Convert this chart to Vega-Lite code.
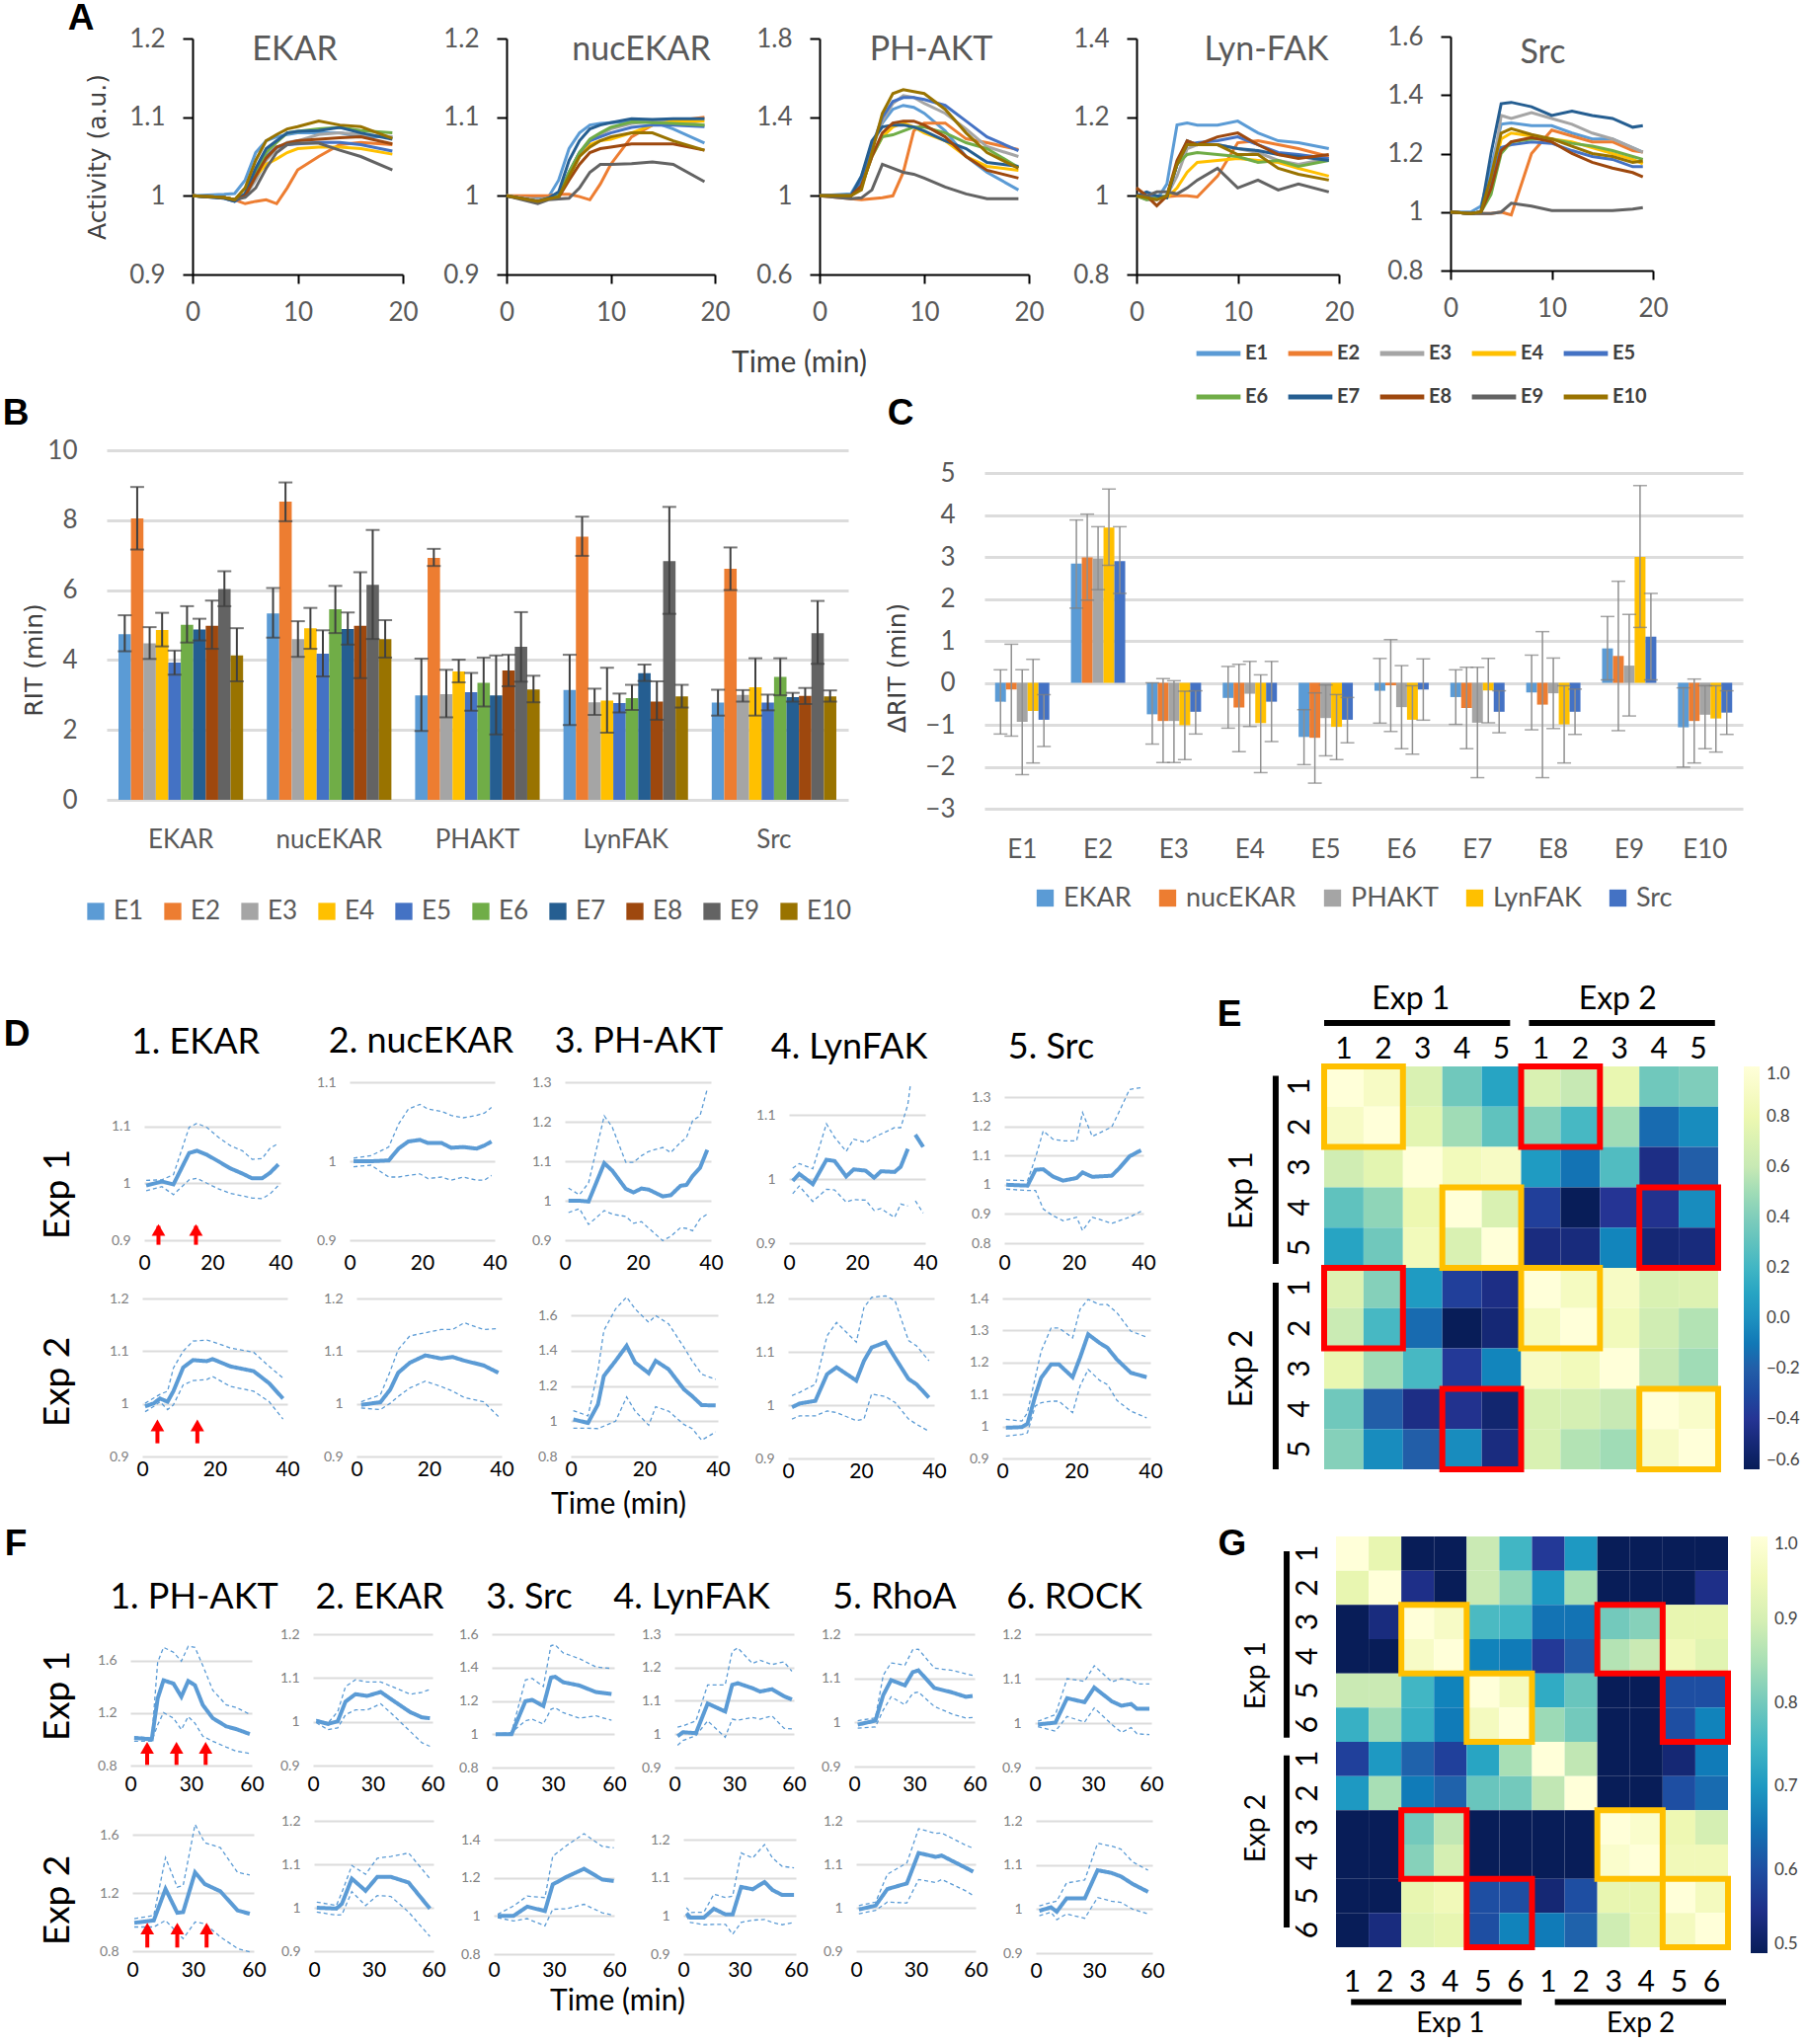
{"$schema":"https://vega.github.io/schema/vega-lite/v6.json","padding":0,"bounds":"flush","spacing":0,"data":{"values":[]},"resolve":{"scale":{"color":"independent","xOffset":"independent"}},
"config":{"view":{"stroke":null},"numberFormat":".3~g","font":"Lato","range":{"category":["#5B9BD5","#ED7D31","#A5A5A5","#FFC000","#4472C4","#70AD47","#255E91","#9E480E","#636363","#997300"]},
"title":{"font":"Lato","fontSize":36,"fontWeight":"normal","color":"#000","anchor":"middle"},
"text":{"font":"Liberation Sans","fontSize":37,"fontWeight":"bold","color":"#000"},
"axis":{"domain":false,"ticks":false,"grid":false,"labelFont":"Lato","titleFont":"Lato","titleFontWeight":"normal","titleColor":"#000","titleFontSize":37,"labelOverlap":false,"labelFlush":false},
"axisY":{"grid":true,"gridColor":"#dcdcdc","gridWidth":2,"labelFontSize":14,"labelColor":"#808080","labelPadding":14},
"axisX":{"labelFontSize":21,"labelColor":"#000"},
"style":{"ax":{"domain":true,"domainColor":"#000","domainWidth":2,"ticks":true,"tickColor":"#000","tickWidth":2,"tickSize":9,"labelFontSize":26,"labelColor":"#595959","labelPadding":16},"ay":{"grid":false,"domain":true,"domainColor":"#000","domainWidth":2,"ticks":true,"tickColor":"#000","tickWidth":2,"tickSize":10,"labelFontSize":26,"labelColor":"#595959","labelPadding":18}}},
"datasets":{
"a1":[{"t":0,"E1":1,"E2":1,"E3":1,"E4":1,"E5":1,"E6":1,"E7":1,"E8":1,"E9":1,"E10":1},
{"t":3,"E1":1.002,"E2":0.998,"E3":0.998,"E4":0.998,"E5":0.997,"E6":0.998,"E7":0.997,"E8":0.998,"E9":0.998,"E10":0.998},
{"t":4,"E1":1.003,"E2":0.995,"E3":0.995,"E4":0.995,"E5":0.993,"E6":0.995,"E7":0.993,"E8":0.995,"E9":0.995,"E10":0.995},
{"t":5,"E1":1.02,"E2":0.99,"E3":1,"E4":1,"E5":1,"E6":1.002,"E7":1.003,"E8":1,"E9":0.998,"E10":1.01},
{"t":6,"E1":1.055,"E2":0.993,"E3":1.02,"E4":1.025,"E5":1.025,"E6":1.03,"E7":1.035,"E8":1.025,"E9":1.01,"E10":1.045},
{"t":7,"E1":1.07,"E2":0.995,"E3":1.045,"E4":1.04,"E5":1.05,"E6":1.055,"E7":1.06,"E8":1.048,"E9":1.035,"E10":1.07},
{"t":8,"E1":1.075,"E2":0.99,"E3":1.06,"E4":1.047,"E5":1.062,"E6":1.068,"E7":1.07,"E8":1.062,"E9":1.055,"E10":1.078},
{"t":9,"E1":1.078,"E2":1.01,"E3":1.068,"E4":1.055,"E5":1.065,"E6":1.08,"E7":1.08,"E8":1.067,"E9":1.065,"E10":1.085},
{"t":10,"E1":1.08,"E2":1.033,"E3":1.07,"E4":1.06,"E5":1.066,"E6":1.082,"E7":1.082,"E8":1.07,"E9":1.067,"E10":1.088},
{"t":12,"E1":1.08,"E2":1.05,"E3":1.078,"E4":1.062,"E5":1.068,"E6":1.085,"E7":1.083,"E8":1.072,"E9":1.067,"E10":1.095},
{"t":14,"E1":1.08,"E2":1.065,"E3":1.08,"E4":1.062,"E5":1.068,"E6":1.087,"E7":1.087,"E8":1.074,"E9":1.058,"E10":1.09},
{"t":16,"E1":1.075,"E2":1.068,"E3":1.078,"E4":1.06,"E5":1.065,"E6":1.083,"E7":1.08,"E8":1.075,"E9":1.05,"E10":1.088},
{"t":19,"E1":1.075,"E2":1.065,"E3":1.075,"E4":1.053,"E5":1.057,"E6":1.08,"E7":1.072,"E8":1.066,"E9":1.033,"E10":1.073}],
"a2":[{"t":0,"E1":1,"E2":1,"E3":1,"E4":1,"E5":1,"E6":1,"E7":1,"E8":1,"E9":1,"E10":1},
{"t":3,"E1":0.997,"E2":1,"E3":0.995,"E4":0.993,"E5":0.993,"E6":0.993,"E7":0.993,"E8":0.993,"E9":0.99,"E10":0.993},
{"t":4,"E1":0.998,"E2":1,"E3":0.997,"E4":0.997,"E5":0.997,"E6":0.997,"E7":0.997,"E8":0.996,"E9":0.995,"E10":0.996},
{"t":5,"E1":1.02,"E2":1.002,"E3":1.002,"E4":1,"E5":1,"E6":1,"E7":1.005,"E8":0.998,"E9":0.996,"E10":0.999},
{"t":6,"E1":1.06,"E2":1.002,"E3":1.03,"E4":1.025,"E5":1.03,"E6":1.03,"E7":1.045,"E8":1.02,"E9":0.997,"E10":1.025},
{"t":7,"E1":1.08,"E2":0.999,"E3":1.055,"E4":1.05,"E5":1.055,"E6":1.055,"E7":1.07,"E8":1.04,"E9":1.01,"E10":1.05},
{"t":8,"E1":1.09,"E2":0.995,"E3":1.07,"E4":1.065,"E5":1.07,"E6":1.072,"E7":1.085,"E8":1.055,"E9":1.03,"E10":1.062},
{"t":9,"E1":1.092,"E2":1.015,"E3":1.078,"E4":1.07,"E5":1.075,"E6":1.08,"E7":1.09,"E8":1.06,"E9":1.04,"E10":1.07},
{"t":10,"E1":1.093,"E2":1.04,"E3":1.085,"E4":1.072,"E5":1.08,"E6":1.087,"E7":1.093,"E8":1.062,"E9":1.04,"E10":1.075},
{"t":12,"E1":1.095,"E2":1.075,"E3":1.092,"E4":1.08,"E5":1.087,"E6":1.094,"E7":1.098,"E8":1.066,"E9":1.041,"E10":1.08},
{"t":14,"E1":1.094,"E2":1.09,"E3":1.095,"E4":1.09,"E5":1.09,"E6":1.093,"E7":1.097,"E8":1.066,"E9":1.043,"E10":1.08},
{"t":16,"E1":1.085,"E2":1.095,"E3":1.095,"E4":1.095,"E5":1.09,"E6":1.092,"E7":1.098,"E8":1.066,"E9":1.04,"E10":1.07},
{"t":19,"E1":1.067,"E2":1.1,"E3":1.09,"E4":1.095,"E5":1.088,"E6":1.09,"E7":1.098,"E8":1.058,"E9":1.018,"E10":1.058}],
"a3":[{"t":0,"E1":1,"E2":1,"E3":1,"E4":1,"E5":1,"E6":1,"E7":1,"E8":1,"E9":1,"E10":1},
{"t":3,"E1":1.01,"E2":0.985,"E3":1,"E4":1,"E5":1,"E6":1,"E7":1,"E8":1,"E9":0.985,"E10":1},
{"t":4,"E1":1.1,"E2":0.98,"E3":1.06,"E4":1.05,"E5":1.07,"E6":1.05,"E7":1.1,"E8":1.05,"E9":0.99,"E10":1.03},
{"t":5,"E1":1.25,"E2":0.985,"E3":1.25,"E4":1.2,"E5":1.25,"E6":1.2,"E7":1.28,"E8":1.2,"E9":1.03,"E10":1.22},
{"t":6,"E1":1.37,"E2":0.99,"E3":1.38,"E4":1.3,"E5":1.4,"E6":1.3,"E7":1.35,"E8":1.32,"E9":1.16,"E10":1.42},
{"t":7,"E1":1.44,"E2":1,"E3":1.47,"E4":1.35,"E5":1.48,"E6":1.31,"E7":1.36,"E8":1.37,"E9":1.14,"E10":1.52},
{"t":8,"E1":1.46,"E2":1.12,"E3":1.51,"E4":1.37,"E5":1.5,"E6":1.33,"E7":1.36,"E8":1.38,"E9":1.12,"E10":1.54},
{"t":9,"E1":1.45,"E2":1.33,"E3":1.5,"E4":1.35,"E5":1.5,"E6":1.35,"E7":1.35,"E8":1.38,"E9":1.11,"E10":1.53},
{"t":10,"E1":1.42,"E2":1.37,"E3":1.47,"E4":1.32,"E5":1.49,"E6":1.35,"E7":1.33,"E8":1.36,"E9":1.09,"E10":1.52},
{"t":12,"E1":1.33,"E2":1.37,"E3":1.42,"E4":1.28,"E5":1.46,"E6":1.32,"E7":1.28,"E8":1.3,"E9":1.045,"E10":1.44},
{"t":14,"E1":1.2,"E2":1.29,"E3":1.34,"E4":1.2,"E5":1.38,"E6":1.27,"E7":1.24,"E8":1.2,"E9":1.01,"E10":1.32},
{"t":16,"E1":1.12,"E2":1.27,"E3":1.25,"E4":1.15,"E5":1.3,"E6":1.24,"E7":1.17,"E8":1.13,"E9":0.985,"E10":1.22},
{"t":19,"E1":1.03,"E2":1.235,"E3":1.2,"E4":1.13,"E5":1.23,"E6":1.145,"E7":1.15,"E8":1.09,"E9":0.985,"E10":1.14}],
"a4":[{"t":0,"E1":1,"E2":1.02,"E3":1,"E4":1,"E5":1,"E6":1,"E7":1,"E8":1.02,"E9":1,"E10":1},
{"t":1,"E1":0.995,"E2":1,"E3":0.99,"E4":0.995,"E5":1,"E6":0.99,"E7":1.01,"E8":1,"E9":1,"E10":0.995},
{"t":2,"E1":0.99,"E2":0.995,"E3":0.99,"E4":0.995,"E5":0.995,"E6":0.995,"E7":1,"E8":0.975,"E9":1.01,"E10":0.99},
{"t":3,"E1":1.03,"E2":0.998,"E3":1,"E4":0.995,"E5":1,"E6":1,"E7":0.995,"E8":1,"E9":1.01,"E10":1},
{"t":4,"E1":1.18,"E2":1,"E3":1.05,"E4":1.02,"E5":1.08,"E6":1.08,"E7":1.08,"E8":1.09,"E9":1.005,"E10":1.08},
{"t":5,"E1":1.185,"E2":1,"E3":1.12,"E4":1.06,"E5":1.13,"E6":1.105,"E7":1.14,"E8":1.14,"E9":1.02,"E10":1.13},
{"t":6,"E1":1.18,"E2":0.997,"E3":1.13,"E4":1.085,"E5":1.135,"E6":1.11,"E7":1.13,"E8":1.13,"E9":1.04,"E10":1.13},
{"t":8,"E1":1.18,"E2":1.05,"E3":1.13,"E4":1.09,"E5":1.14,"E6":1.105,"E7":1.13,"E8":1.15,"E9":1.07,"E10":1.13},
{"t":10,"E1":1.19,"E2":1.135,"E3":1.12,"E4":1.095,"E5":1.15,"E6":1.1,"E7":1.12,"E8":1.16,"E9":1.02,"E10":1.105},
{"t":12,"E1":1.16,"E2":1.14,"E3":1.11,"E4":1.09,"E5":1.13,"E6":1.085,"E7":1.115,"E8":1.13,"E9":1.04,"E10":1.105},
{"t":14,"E1":1.14,"E2":1.13,"E3":1.09,"E4":1.085,"E5":1.11,"E6":1.09,"E7":1.105,"E8":1.105,"E9":1.015,"E10":1.07},
{"t":16,"E1":1.135,"E2":1.12,"E3":1.08,"E4":1.07,"E5":1.105,"E6":1.075,"E7":1.1,"E8":1.095,"E9":1.03,"E10":1.055},
{"t":19,"E1":1.12,"E2":1.1,"E3":1.095,"E4":1.05,"E5":1.095,"E6":1.09,"E7":1.09,"E8":1.105,"E9":1.01,"E10":1.04}],
"a5":[{"t":0,"E1":1,"E2":1,"E3":1,"E4":1,"E5":1,"E6":1,"E7":1,"E8":1,"E9":1,"E10":1},
{"t":2,"E1":1,"E2":0.995,"E3":0.995,"E4":0.995,"E5":0.995,"E6":0.995,"E7":0.995,"E8":0.995,"E9":0.995,"E10":0.995},
{"t":3,"E1":1.02,"E2":0.995,"E3":1,"E4":1,"E5":1,"E6":1,"E7":1,"E8":1,"E9":0.995,"E10":1},
{"t":4,"E1":1.15,"E2":0.995,"E3":1.1,"E4":1.1,"E5":1.1,"E6":1.06,"E7":1.2,"E8":1.08,"E9":0.995,"E10":1.12},
{"t":5,"E1":1.3,"E2":1,"E3":1.33,"E4":1.25,"E5":1.22,"E6":1.2,"E7":1.37,"E8":1.21,"E9":1,"E10":1.27},
{"t":6,"E1":1.305,"E2":0.99,"E3":1.32,"E4":1.27,"E5":1.23,"E6":1.24,"E7":1.375,"E8":1.24,"E9":1.03,"E10":1.285},
{"t":8,"E1":1.295,"E2":1.2,"E3":1.34,"E4":1.26,"E5":1.24,"E6":1.25,"E7":1.36,"E8":1.255,"E9":1.02,"E10":1.265},
{"t":10,"E1":1.295,"E2":1.28,"E3":1.32,"E4":1.25,"E5":1.235,"E6":1.25,"E7":1.33,"E8":1.24,"E9":1.005,"E10":1.25},
{"t":12,"E1":1.27,"E2":1.26,"E3":1.3,"E4":1.24,"E5":1.21,"E6":1.235,"E7":1.345,"E8":1.2,"E9":1.005,"E10":1.225},
{"t":14,"E1":1.25,"E2":1.24,"E3":1.27,"E4":1.22,"E5":1.19,"E6":1.225,"E7":1.33,"E8":1.17,"E9":1.005,"E10":1.2},
{"t":16,"E1":1.25,"E2":1.24,"E3":1.25,"E4":1.2,"E5":1.18,"E6":1.21,"E7":1.32,"E8":1.15,"E9":1.005,"E10":1.19},
{"t":18,"E1":1.22,"E2":1.21,"E3":1.22,"E4":1.18,"E5":1.155,"E6":1.19,"E7":1.29,"E8":1.135,"E9":1.01,"E10":1.17},
{"t":19,"E1":1.205,"E2":1.205,"E3":1.205,"E4":1.165,"E5":1.155,"E6":1.18,"E7":1.295,"E8":1.12,"E9":1.015,"E10":1.175}],
"b":[{"g":"EKAR","s":"E1","v":4.74,"h":5.28,"l":4.25},{"g":"EKAR","s":"E2","v":8.05,"h":8.95,"l":7.16},{"g":"EKAR","s":"E3","v":4.48,"h":4.94,"l":4.03},{"g":"EKAR","s":"E4","v":4.86,"h":5.35,"l":4.39},{"g":"EKAR","s":"E5","v":3.93,"h":4.27,"l":3.58},{"g":"EKAR","s":"E6","v":5.01,"h":5.54,"l":4.5},{"g":"EKAR","s":"E7","v":4.87,"h":5.18,"l":4.56},{"g":"EKAR","s":"E8","v":4.98,"h":5.7,"l":4.32},{"g":"EKAR","s":"E9","v":6.03,"h":6.54,"l":5.54},{"g":"EKAR","s":"E10","v":4.13,"h":4.91,"l":3.39},
{"g":"nucEKAR","s":"E1","v":5.33,"h":6.06,"l":4.64},{"g":"nucEKAR","s":"E2","v":8.53,"h":9.08,"l":7.97},{"g":"nucEKAR","s":"E3","v":4.6,"h":5.11,"l":4.09},{"g":"nucEKAR","s":"E4","v":4.91,"h":5.49,"l":4.32},{"g":"nucEKAR","s":"E5","v":4.18,"h":4.85,"l":3.53},{"g":"nucEKAR","s":"E6","v":5.45,"h":6.12,"l":4.77},{"g":"nucEKAR","s":"E7","v":4.89,"h":5.36,"l":4.44},{"g":"nucEKAR","s":"E8","v":4.98,"h":6.51,"l":3.48},{"g":"nucEKAR","s":"E9","v":6.15,"h":7.72,"l":4.6},{"g":"nucEKAR","s":"E10","v":4.6,"h":5.14,"l":4.07},
{"g":"PHAKT","s":"E1","v":2.99,"h":4.04,"l":1.97},{"g":"PHAKT","s":"E2","v":6.92,"h":7.18,"l":6.69},{"g":"PHAKT","s":"E3","v":3.02,"h":3.72,"l":2.36},{"g":"PHAKT","s":"E4","v":3.67,"h":4.01,"l":3.36},{"g":"PHAKT","s":"E5","v":3.08,"h":3.63,"l":2.55},{"g":"PHAKT","s":"E6","v":3.35,"h":4.07,"l":2.67},{"g":"PHAKT","s":"E7","v":2.99,"h":4.13,"l":1.87},{"g":"PHAKT","s":"E8","v":3.7,"h":4.15,"l":3.25},{"g":"PHAKT","s":"E9","v":4.38,"h":5.37,"l":3.38},{"g":"PHAKT","s":"E10","v":3.16,"h":3.55,"l":2.79},
{"g":"LynFAK","s":"E1","v":3.14,"h":4.15,"l":2.14},{"g":"LynFAK","s":"E2","v":7.53,"h":8.1,"l":6.98},{"g":"LynFAK","s":"E3","v":2.79,"h":3.18,"l":2.43},{"g":"LynFAK","s":"E4","v":2.84,"h":3.78,"l":1.92},{"g":"LynFAK","s":"E5","v":2.77,"h":3.04,"l":2.5},{"g":"LynFAK","s":"E6","v":2.91,"h":3.29,"l":2.57},{"g":"LynFAK","s":"E7","v":3.62,"h":3.87,"l":3.4},{"g":"LynFAK","s":"E8","v":2.81,"h":3.39,"l":2.29},{"g":"LynFAK","s":"E9","v":6.83,"h":8.38,"l":5.32},{"g":"LynFAK","s":"E10","v":2.96,"h":3.29,"l":2.64},
{"g":"Src","s":"E1","v":2.78,"h":3.15,"l":2.41},{"g":"Src","s":"E2","v":6.61,"h":7.22,"l":6},{"g":"Src","s":"E3","v":3,"h":3.14,"l":2.81},{"g":"Src","s":"E4","v":3.22,"h":4.05,"l":2.41},{"g":"Src","s":"E5","v":2.78,"h":3.01,"l":2.56},{"g":"Src","s":"E6","v":3.52,"h":4.05,"l":2.99},{"g":"Src","s":"E7","v":2.94,"h":3.06,"l":2.81},{"g":"Src","s":"E8","v":2.97,"h":3.2,"l":2.74},{"g":"Src","s":"E9","v":4.77,"h":5.69,"l":3.89},{"g":"Src","s":"E10","v":2.96,"h":3.13,"l":2.81}],
"c":[{"g":"E1","s":"EKAR","v":-0.45,"h":0.31,"l":-1.22},{"g":"E1","s":"nucEKAR","v":-0.16,"h":0.92,"l":-1.27},{"g":"E1","s":"PHAKT","v":-0.93,"h":0.31,"l":-2.19},{"g":"E1","s":"LynFAK","v":-0.67,"h":0.56,"l":-1.91},{"g":"E1","s":"Src","v":-0.88,"h":-0.28,"l":-1.52},
{"g":"E2","s":"EKAR","v":2.84,"h":3.88,"l":1.78},{"g":"E2","s":"nucEKAR","v":2.99,"h":4.02,"l":1.97},{"g":"E2","s":"PHAKT","v":2.96,"h":3.72,"l":2.22},{"g":"E2","s":"LynFAK","v":3.7,"h":4.62,"l":2.8},{"g":"E2","s":"Src","v":2.9,"h":3.72,"l":2.13},
{"g":"E3","s":"EKAR","v":-0.75,"h":0,"l":-1.46},{"g":"E3","s":"nucEKAR","v":-0.91,"h":0.1,"l":-1.9},{"g":"E3","s":"PHAKT","v":-0.91,"h":0.05,"l":-1.9},{"g":"E3","s":"LynFAK","v":-1.01,"h":-0.2,"l":-1.83},{"g":"E3","s":"Src","v":-0.69,"h":-0.19,"l":-1.22},
{"g":"E4","s":"EKAR","v":-0.36,"h":0.39,"l":-1.08},{"g":"E4","s":"nucEKAR","v":-0.59,"h":0.44,"l":-1.64},{"g":"E4","s":"PHAKT","v":-0.26,"h":0.51,"l":-1.04},{"g":"E4","s":"LynFAK","v":-0.96,"h":0.19,"l":-2.14},{"g":"E4","s":"Src","v":-0.45,"h":0.51,"l":-1.4},
{"g":"E5","s":"EKAR","v":-1.29,"h":-0.64,"l":-1.95},{"g":"E5","s":"nucEKAR","v":-1.31,"h":-0.24,"l":-2.39},{"g":"E5","s":"PHAKT","v":-0.84,"h":-0.05,"l":-1.74},{"g":"E5","s":"LynFAK","v":-1.05,"h":-0.28,"l":-1.83},{"g":"E5","s":"Src","v":-0.88,"h":-0.35,"l":-1.43},
{"g":"E6","s":"EKAR","v":-0.19,"h":0.58,"l":-0.96},{"g":"E6","s":"nucEKAR","v":-0.06,"h":1.03,"l":-1.16},{"g":"E6","s":"PHAKT","v":-0.58,"h":0.41,"l":-1.57},{"g":"E6","s":"LynFAK","v":-0.88,"h":-0.07,"l":-1.7},{"g":"E6","s":"Src","v":-0.16,"h":0.57,"l":-0.89},
{"g":"E7","s":"EKAR","v":-0.34,"h":0.31,"l":-0.99},{"g":"E7","s":"nucEKAR","v":-0.6,"h":0.37,"l":-1.57},{"g":"E7","s":"PHAKT","v":-0.95,"h":0.37,"l":-2.26},{"g":"E7","s":"LynFAK","v":-0.18,"h":0.58,"l":-0.95},{"g":"E7","s":"Src","v":-0.69,"h":-0.19,"l":-1.19},
{"g":"E8","s":"EKAR","v":-0.23,"h":0.66,"l":-1.12},{"g":"E8","s":"nucEKAR","v":-0.52,"h":1.22,"l":-2.26},{"g":"E8","s":"PHAKT","v":-0.25,"h":0.59,"l":-1.09},{"g":"E8","s":"LynFAK","v":-0.99,"h":-0.07,"l":-1.91},{"g":"E8","s":"Src","v":-0.69,"h":-0.15,"l":-1.23},
{"g":"E9","s":"EKAR","v":0.82,"h":1.58,"l":0.07},{"g":"E9","s":"nucEKAR","v":0.64,"h":2.42,"l":-1.14},{"g":"E9","s":"PHAKT","v":0.41,"h":1.63,"l":-0.79},{"g":"E9","s":"LynFAK","v":3,"h":4.7,"l":1.32},{"g":"E9","s":"Src","v":1.1,"h":2.13,"l":0.07},
{"g":"E10","s":"EKAR","v":-1.06,"h":-0.12,"l":-2.01},{"g":"E10","s":"nucEKAR","v":-0.91,"h":0.09,"l":-1.91},{"g":"E10","s":"PHAKT","v":-0.76,"h":-0.07,"l":-1.57},{"g":"E10","s":"LynFAK","v":-0.85,"h":-0.07,"l":-1.65},{"g":"E10","s":"Src","v":-0.71,"h":-0.19,"l":-1.23}],
"d11":[{"t":0.6,"m":0.996,"u":1.005,"l":0.987},{"t":5.2,"m":1.003,"u":1.006,"l":0.994},{"t":8.6,"m":0.998,"u":1.015,"l":0.98},{"t":13.2,"m":1.053,"u":1.098,"l":1.006},{"t":15.5,"m":1.057,"u":1.105,"l":1.0085},{"t":18.4,"m":1.05,"u":1.098,"l":1},{"t":21.9,"m":1.038,"u":1.08,"l":0.99},{"t":25.3,"m":1.026,"u":1.066,"l":0.982},{"t":28.8,"m":1.017,"u":1.057,"l":0.978},{"t":31.7,"m":1.0085,"u":1.042,"l":0.974},{"t":34.6,"m":1.0085,"u":1.043,"l":0.973},{"t":36.9,"m":1.018,"u":1.061,"l":0.981},{"t":39.4,"m":1.033,"u":1.07,"l":0.996}],
"d12":[{"t":1.1,"m":1,"u":1.004,"l":0.993},{"t":5.9,"m":1,"u":1.007,"l":0.995},{"t":10.8,"m":1.001,"u":1.018,"l":0.98},{"t":13.5,"m":1.016,"u":1.047,"l":0.98},{"t":16.2,"m":1.025,"u":1.066,"l":0.982},{"t":19.4,"m":1.027,"u":1.072,"l":0.984},{"t":21.6,"m":1.023,"u":1.066,"l":0.978},{"t":25.4,"m":1.023,"u":1.063,"l":0.98},{"t":28,"m":1.017,"u":1.058,"l":0.976},{"t":31.3,"m":1.018,"u":1.055,"l":0.98},{"t":35,"m":1.016,"u":1.058,"l":0.976},{"t":37.2,"m":1.02,"u":1.061,"l":0.976},{"t":39.1,"m":1.025,"u":1.068,"l":0.982}],
"d13":[{"t":1,"m":1,"u":1.032,"l":0.97},{"t":4,"m":1,"u":1.015,"l":0.98},{"t":6.5,"m":0.998,"u":1.045,"l":0.94},{"t":10.8,"m":1.095,"u":1.215,"l":0.975},{"t":13,"m":1.076,"u":1.186,"l":0.966},{"t":16.7,"m":1.03,"u":1.097,"l":0.96},{"t":18.8,"m":1.021,"u":1.097,"l":0.943},{"t":21,"m":1.031,"u":1.114,"l":0.947},{"t":23,"m":1.028,"u":1.125,"l":0.93},{"t":26.8,"m":1.011,"u":1.135,"l":0.899},{"t":29,"m":1.014,"u":1.122,"l":0.91},{"t":31.7,"m":1.038,"u":1.148,"l":0.932},{"t":33.3,"m":1.04,"u":1.16,"l":0.93},{"t":35,"m":1.063,"u":1.203,"l":0.924},{"t":37,"m":1.083,"u":1.215,"l":0.954},{"t":39,"m":1.129,"u":1.283,"l":0.966}],
"d14":[{"t":1.1,"m":0.997,"u":1.017,"l":0.977},{"t":3,"m":1.008,"u":1.024,"l":0.989},{"t":7,"m":0.992,"u":1.016,"l":0.965},{"t":11,"m":1.03,"u":1.086,"l":0.984},{"t":13.4,"m":1.028,"u":1.065,"l":0.983},{"t":16.8,"m":1.004,"u":1.043,"l":0.964},{"t":19,"m":1.015,"u":1.062,"l":0.968},{"t":22.5,"m":1.013,"u":1.057,"l":0.967},{"t":25,"m":1.002,"u":1.065,"l":0.951},{"t":27,"m":1.012,"u":1.07,"l":0.954},{"t":31,"m":1.011,"u":1.08,"l":0.94},{"t":32.8,"m":1.019,"u":1.08,"l":0.961},{"t":34.9,"m":1.047,"u":1.116,"l":0.958},{"t":35.7,"u":1.149},{"t":37.1,"m":1.069,"l":0.966},{"t":39.4,"m":1.05,"l":0.947}],
"d15":[{"t":0.6,"m":1,"u":1.016,"l":0.985},{"t":6.7,"m":0.997,"u":1.014,"l":0.98},{"t":9,"m":1.051,"u":1.093,"l":0.98},{"t":11.2,"m":1.053,"u":1.184,"l":0.917},{"t":14,"m":1.028,"u":1.156,"l":0.894},{"t":16.9,"m":1.014,"u":1.15,"l":0.877},{"t":20.8,"m":1.023,"u":1.15,"l":0.889},{"t":22.5,"m":1.042,"u":1.247,"l":0.843},{"t":25.3,"m":1.027,"u":1.165,"l":0.889},{"t":30.9,"m":1.031,"u":1.198,"l":0.868},{"t":33.1,"m":1.057,"u":1.252,"l":0.877},{"t":36,"m":1.097,"u":1.326,"l":0.889},{"t":39.3,"m":1.118,"u":1.332,"l":0.909}],
"d21":[{"t":0.8,"m":0.995,"u":1.001,"l":0.985},{"t":3.2,"m":1.001,"u":1.011,"l":0.995},{"t":4.9,"m":1.01,"u":1.018,"l":1.004},{"t":7,"m":1.004,"u":1.024,"l":0.989},{"t":8.6,"m":1.024,"u":1.068,"l":0.998},{"t":11.3,"m":1.069,"u":1.1,"l":1.036},{"t":14,"m":1.083,"u":1.119,"l":1.044},{"t":17.8,"m":1.081,"u":1.121,"l":1.046},{"t":19.4,"m":1.085,"u":1.118,"l":1.052},{"t":24.3,"m":1.071,"u":1.106,"l":1.033},{"t":30.7,"m":1.062,"u":1.098,"l":1.024},{"t":35,"m":1.039,"u":1.071,"l":1.004},{"t":38.8,"m":1.01,"u":1.049,"l":0.971}],
"d22":[{"t":1.3,"m":0.998,"u":1.004,"l":0.992},{"t":6.6,"m":1.003,"u":1.017,"l":0.989},{"t":9.3,"m":1.027,"u":1.062,"l":1.001},{"t":11.5,"m":1.059,"u":1.103,"l":1.014},{"t":14.7,"m":1.078,"u":1.129,"l":1.03},{"t":19,"m":1.092,"u":1.135,"l":1.043},{"t":23.3,"m":1.086,"u":1.141,"l":1.033},{"t":26.5,"m":1.089,"u":1.141,"l":1.024},{"t":29.7,"m":1.082,"u":1.154,"l":1.012},{"t":35,"m":1.073,"u":1.141,"l":1.004},{"t":39.1,"m":1.059,"u":1.143,"l":0.976}],
"d23":[{"t":0.7,"m":1.01,"u":1.06,"l":0.96},{"t":4.7,"m":0.99,"u":1.03,"l":0.96},{"t":7.4,"m":1.095,"u":1.285,"l":0.958},{"t":9,"m":1.256,"u":1.513,"l":0.972},{"t":12.2,"m":1.342,"u":1.636,"l":1},{"t":15.2,"m":1.427,"u":1.703,"l":1.137},{"t":17.5,"m":1.332,"u":1.636,"l":1.057},{"t":21.2,"m":1.272,"u":1.56,"l":0.977},{"t":23.1,"m":1.342,"u":1.598,"l":1.082},{"t":26.6,"m":1.294,"u":1.551,"l":1.057},{"t":30.8,"m":1.18,"u":1.418,"l":0.981},{"t":33,"m":1.142,"u":1.342,"l":0.958},{"t":35.6,"m":1.091,"u":1.266,"l":0.892},{"t":39.4,"m":1.089,"u":1.237,"l":0.939}],
"d24":[{"t":1.1,"m":0.996,"u":1.018,"l":0.974},{"t":3.2,"m":1.003,"u":1.024,"l":0.98},{"t":7.5,"m":1.008,"u":1.039,"l":0.98},{"t":10.7,"m":1.058,"u":1.13,"l":0.989},{"t":13.3,"m":1.071,"u":1.155,"l":0.986},{"t":18.7,"m":1.046,"u":1.118,"l":0.971},{"t":20.8,"m":1.083,"u":1.183,"l":0.974},{"t":22.9,"m":1.108,"u":1.202,"l":1.021},{"t":26.7,"m":1.118,"u":1.205,"l":1.016},{"t":29.3,"m":1.089,"u":1.196,"l":1.005},{"t":33,"m":1.049,"u":1.121,"l":0.974},{"t":35.2,"m":1.039,"u":1.111,"l":0.964},{"t":38.6,"m":1.014,"u":1.083,"l":0.951}],
"d25":[{"t":1,"m":0.996,"u":1.022,"l":0.97},{"t":5.3,"m":0.998,"u":1.017,"l":0.975},{"t":6.8,"m":1.008,"u":1.043,"l":0.98},{"t":8.9,"m":1.095,"u":1.152,"l":1.064},{"t":10.5,"m":1.152,"u":1.235,"l":1.074},{"t":13.2,"m":1.194,"u":1.308,"l":1.079},{"t":15.3,"m":1.194,"u":1.308,"l":1.079},{"t":19,"m":1.154,"u":1.277,"l":1.043},{"t":21,"m":1.215,"u":1.366,"l":1.126},{"t":23.2,"m":1.288,"u":1.397,"l":1.178},{"t":26.3,"m":1.261,"u":1.381,"l":1.144},{"t":28.4,"m":1.246,"u":1.381,"l":1.131},{"t":31,"m":1.209,"u":1.355,"l":1.081},{"t":34.7,"m":1.168,"u":1.298,"l":1.048},{"t":39,"m":1.154,"u":1.279,"l":1.027}],
"f11":[{"t":1.9,"m":1.01,"u":1.02,"l":0.985},{"t":10.6,"m":1,"u":1.01,"l":0.985},{"t":13.5,"m":1.311,"u":1.587,"l":1.11},{"t":16.4,"m":1.449,"u":1.7,"l":1.203},{"t":21.3,"m":1.424,"u":1.663,"l":1.161},{"t":25.2,"m":1.324,"u":1.595,"l":1.073},{"t":28.6,"m":1.444,"u":1.708,"l":1.173},{"t":31.9,"m":1.412,"u":1.7,"l":1.123},{"t":35.8,"m":1.261,"u":1.562,"l":1.023},{"t":40.7,"m":1.161,"u":1.374,"l":0.985},{"t":47.4,"m":1.098,"u":1.261,"l":0.94},{"t":52.2,"m":1.078,"u":1.243,"l":0.91},{"t":59,"m":1.04,"u":1.19,"l":0.892}],
"f12":[{"t":1.6,"m":1.002,"u":1.005,"l":0.998},{"t":7.5,"m":0.995,"u":0.997,"l":0.982},{"t":12.4,"m":1.001,"u":1.023,"l":0.986},{"t":16.3,"m":1.046,"u":1.08,"l":1.016},{"t":21.3,"m":1.063,"u":1.096,"l":1.027},{"t":27.2,"m":1.059,"u":1.091,"l":1.027},{"t":34,"m":1.068,"u":1.091,"l":1.041},{"t":41,"m":1.046,"u":1.078,"l":1.012},{"t":48.8,"m":1.022,"u":1.063,"l":0.978},{"t":54.7,"m":1.01,"u":1.067,"l":0.952},{"t":58.7,"m":1.008,"u":1.074,"l":0.944}],
"f13":[{"t":1.9,"m":1,"u":1,"l":0.992},{"t":9.7,"m":1,"u":1.01,"l":1.01},{"t":16.5,"m":1.198,"u":1.325,"l":1.08},{"t":19.8,"m":1.206,"u":1.335,"l":1.09},{"t":25.3,"m":1.169,"u":1.286,"l":1.061},{"t":29,"m":1.339,"u":1.531,"l":1.149},{"t":31,"m":1.345,"u":1.537,"l":1.159},{"t":35,"m":1.312,"u":1.488,"l":1.129},{"t":43,"m":1.292,"u":1.453,"l":1.096},{"t":51,"m":1.253,"u":1.404,"l":1.11},{"t":58.7,"m":1.241,"u":1.394,"l":1.084}],
"f14":[{"t":1.6,"m":0.994,"u":1.021,"l":0.967},{"t":4.3,"m":1.006,"u":1.025,"l":0.981},{"t":10.8,"m":1.003,"u":1.04,"l":0.996},{"t":16.7,"m":1.092,"u":1.148,"l":1.04},{"t":25.5,"m":1.068,"u":1.148,"l":0.991},{"t":29,"m":1.148,"u":1.248,"l":1.045},{"t":31.8,"m":1.153,"u":1.259,"l":1.042},{"t":39.2,"m":1.138,"u":1.212,"l":1.05},{"t":43,"m":1.128,"u":1.222,"l":1.045},{"t":49,"m":1.135,"u":1.209,"l":1.055},{"t":55,"m":1.114,"u":1.217,"l":1.018},{"t":59,"m":1.104,"u":1.189,"l":1.016}],
"f15":[{"t":1.8,"m":0.995,"u":1.004,"l":0.987},{"t":10.6,"m":1.004,"u":1.01,"l":0.99},{"t":14.5,"m":1.062,"u":1.107,"l":1.028},{"t":18.4,"m":1.096,"u":1.135,"l":1.058},{"t":25.3,"m":1.084,"u":1.13,"l":1.04},{"t":29.2,"m":1.114,"u":1.165,"l":1.066},{"t":32,"m":1.118,"u":1.166,"l":1.069},{"t":40,"m":1.078,"u":1.123,"l":1.036},{"t":48.8,"m":1.068,"u":1.118,"l":1.019},{"t":55.7,"m":1.058,"u":1.11,"l":1.01},{"t":59,"m":1.06,"u":1.107,"l":1.011}],
"f16":[{"t":1.6,"m":0.997,"u":1.004,"l":0.992},{"t":10.6,"m":1.001,"u":1.019,"l":0.982},{"t":16.6,"m":1.056,"u":1.1,"l":1.015},{"t":25.6,"m":1.047,"u":1.094,"l":1.002},{"t":30.6,"m":1.08,"u":1.129,"l":1.034},{"t":39.6,"m":1.049,"u":1.093,"l":0.997},{"t":44.6,"m":1.039,"u":1.1,"l":0.979},{"t":49.6,"m":1.043,"u":1.096,"l":0.99},{"t":52.6,"m":1.032,"u":1.088,"l":0.976},{"t":59,"m":1.032,"u":1.088,"l":0.974}],
"f21":[{"t":1,"m":0.995,"u":1.023,"l":0.966},{"t":10.6,"m":1.011,"u":1.045,"l":0.966},{"t":16.4,"m":1.227,"u":1.443,"l":1.011},{"t":22.2,"m":1.064,"u":1.239,"l":0.927},{"t":25.1,"m":1.068,"u":1.25,"l":0.886},{"t":31,"m":1.341,"u":1.67,"l":1},{"t":35.8,"m":1.261,"u":1.545,"l":0.989},{"t":43.5,"m":1.211,"u":1.511,"l":0.898},{"t":52,"m":1.08,"u":1.341,"l":0.818},{"t":58,"m":1.057,"u":1.323,"l":0.795}],
"f22":[{"t":1.4,"m":1,"u":1.013,"l":0.99},{"t":11.2,"m":0.998,"u":1.005,"l":0.983},{"t":14,"m":1.009,"u":1.035,"l":0.984},{"t":19,"m":1.067,"u":1.097,"l":1.037},{"t":25.9,"m":1.039,"u":1.077,"l":1.005},{"t":31.8,"m":1.071,"u":1.114,"l":1.028},{"t":38.6,"m":1.071,"u":1.118,"l":1.026},{"t":47.5,"m":1.058,"u":1.126,"l":0.99},{"t":58.2,"m":0.998,"u":1.067,"l":0.934}],
"f23":[{"t":2,"m":1,"u":1.009,"l":0.991},{"t":9.8,"m":1,"u":1.052,"l":0.974},{"t":16.7,"m":1.049,"u":1.104,"l":0.986},{"t":25.5,"m":1.026,"u":1.096,"l":0.948},{"t":29.4,"m":1.165,"u":1.313,"l":1.035},{"t":36.3,"m":1.205,"u":1.369,"l":1.038},{"t":45,"m":1.247,"u":1.431,"l":1.061},{"t":54,"m":1.191,"u":1.365,"l":1.017},{"t":59.8,"m":1.183,"u":1.357,"l":1.003}],
"f24":[{"t":1.7,"m":1.007,"u":1.022,"l":1},{"t":3.8,"m":0.996,"u":1.009,"l":0.983},{"t":11,"m":0.996,"u":1.01,"l":0.977},{"t":16.3,"m":1.019,"u":1.057,"l":0.978},{"t":22.5,"m":1.004,"u":1.048,"l":0.978},{"t":26.3,"m":1.004,"u":1.052,"l":0.952},{"t":30.8,"m":1.076,"u":1.165,"l":0.983},{"t":37,"m":1.07,"u":1.152,"l":0.989},{"t":43.3,"m":1.089,"u":1.187,"l":0.991},{"t":47.5,"m":1.068,"u":1.152,"l":0.983},{"t":52.7,"m":1.055,"u":1.13,"l":0.977},{"t":59,"m":1.055,"u":1.126,"l":0.983}],
"f25":[{"t":1.4,"m":0.996,"u":1.005,"l":0.986},{"t":9.8,"m":1.005,"u":1.013,"l":0.994},{"t":15.7,"m":1.043,"u":1.077,"l":1.013},{"t":25.5,"m":1.056,"u":1.103,"l":1.011},{"t":31.4,"m":1.126,"u":1.182,"l":1.065},{"t":40,"m":1.117,"u":1.171,"l":1.058},{"t":43,"m":1.12,"u":1.172,"l":1.065},{"t":55,"m":1.092,"u":1.144,"l":1.039},{"t":58.8,"m":1.083,"u":1.137,"l":1.028}],
"f26":[{"t":1.8,"m":0.996,"u":1.007,"l":0.985},{"t":7.8,"m":1.004,"u":1.015,"l":0.993},{"t":10.8,"m":0.994,"u":1.018,"l":0.976},{"t":15.8,"m":1.024,"u":1.059,"l":0.989},{"t":25.2,"m":1.024,"u":1.066,"l":0.979},{"t":31.8,"m":1.088,"u":1.149,"l":1.026},{"t":38.8,"m":1.082,"u":1.143,"l":1.018},{"t":43.8,"m":1.074,"u":1.136,"l":1.015},{"t":49.8,"m":1.057,"u":1.107,"l":1},{"t":57.8,"m":1.039,"u":1.088,"l":0.989}],
"ad":[{"a":4.2},{"a":15.2}],"af1":[{"a":8.3},{"a":22.8},{"a":37.2}],"af2":[{"a":7.4},{"a":22.2},{"a":36.7}],
"eh":[{"c":0,"r":0,"v":1},{"c":1,"r":0,"v":0.9},{"c":2,"r":0,"v":0.7},{"c":3,"r":0,"v":0.35},{"c":4,"r":0,"v":0.1},{"c":5,"r":0,"v":0.7},{"c":6,"r":0,"v":0.6},{"c":7,"r":0,"v":0.78},{"c":8,"r":0,"v":0.35},{"c":9,"r":0,"v":0.4},
{"c":0,"r":1,"v":0.9},{"c":1,"r":1,"v":1},{"c":2,"r":1,"v":0.75},{"c":3,"r":1,"v":0.5},{"c":4,"r":1,"v":0.3},{"c":5,"r":1,"v":0.42},{"c":6,"r":1,"v":0.22},{"c":7,"r":1,"v":0.5},{"c":8,"r":1,"v":-0.15},{"c":9,"r":1,"v":-0.02},
{"c":0,"r":2,"v":0.65},{"c":1,"r":2,"v":0.75},{"c":2,"r":2,"v":1},{"c":3,"r":2,"v":0.85},{"c":4,"r":2,"v":0.9},{"c":5,"r":2,"v":0.05},{"c":6,"r":2,"v":-0.12},{"c":7,"r":2,"v":0.25},{"c":8,"r":2,"v":-0.45},{"c":9,"r":2,"v":-0.2},
{"c":0,"r":3,"v":0.3},{"c":1,"r":3,"v":0.45},{"c":2,"r":3,"v":0.8},{"c":3,"r":3,"v":1},{"c":4,"r":3,"v":0.7},{"c":5,"r":3,"v":-0.35},{"c":6,"r":3,"v":-0.6},{"c":7,"r":3,"v":-0.4},{"c":8,"r":3,"v":-0.42},{"c":9,"r":3,"v":-0.02},
{"c":0,"r":4,"v":0.1},{"c":1,"r":4,"v":0.35},{"c":2,"r":4,"v":0.85},{"c":3,"r":4,"v":0.7},{"c":4,"r":4,"v":1},{"c":5,"r":4,"v":-0.47},{"c":6,"r":4,"v":-0.48},{"c":7,"r":4,"v":-0.05},{"c":8,"r":4,"v":-0.5},{"c":9,"r":4,"v":-0.48},
{"c":0,"r":5,"v":0.72},{"c":1,"r":5,"v":0.42},{"c":2,"r":5,"v":0.05},{"c":3,"r":5,"v":-0.35},{"c":4,"r":5,"v":-0.45},{"c":5,"r":5,"v":1},{"c":6,"r":5,"v":0.88},{"c":7,"r":5,"v":0.9},{"c":8,"r":5,"v":0.7},{"c":9,"r":5,"v":0.72},
{"c":0,"r":6,"v":0.62},{"c":1,"r":6,"v":0.22},{"c":2,"r":6,"v":-0.15},{"c":3,"r":6,"v":-0.6},{"c":4,"r":6,"v":-0.5},{"c":5,"r":6,"v":0.88},{"c":6,"r":6,"v":1},{"c":7,"r":6,"v":0.85},{"c":8,"r":6,"v":0.65},{"c":9,"r":6,"v":0.55},
{"c":0,"r":7,"v":0.78},{"c":1,"r":7,"v":0.5},{"c":2,"r":7,"v":0.22},{"c":3,"r":7,"v":-0.38},{"c":4,"r":7,"v":-0.05},{"c":5,"r":7,"v":0.9},{"c":6,"r":7,"v":0.85},{"c":7,"r":7,"v":1},{"c":8,"r":7,"v":0.6},{"c":9,"r":7,"v":0.5},
{"c":0,"r":8,"v":0.35},{"c":1,"r":8,"v":-0.2},{"c":2,"r":8,"v":-0.45},{"c":3,"r":8,"v":-0.42},{"c":4,"r":8,"v":-0.52},{"c":5,"r":8,"v":0.7},{"c":6,"r":8,"v":0.68},{"c":7,"r":8,"v":0.6},{"c":8,"r":8,"v":1},{"c":9,"r":8,"v":0.92},
{"c":0,"r":9,"v":0.42},{"c":1,"r":9,"v":-0.02},{"c":2,"r":9,"v":-0.2},{"c":3,"r":9,"v":-0.02},{"c":4,"r":9,"v":-0.47},{"c":5,"r":9,"v":0.7},{"c":6,"r":9,"v":0.55},{"c":7,"r":9,"v":0.5},{"c":8,"r":9,"v":0.9},{"c":9,"r":9,"v":1}],
"eb":[{"k":"o","a":0,"b":2,"p":0,"q":2},{"k":"o","a":3,"b":5,"p":3,"q":5},{"k":"o","a":5,"b":7,"p":5,"q":7},{"k":"o","a":8,"b":10,"p":8,"q":10},{"k":"r","a":5,"b":7,"p":0,"q":2},{"k":"r","a":8,"b":10,"p":3,"q":5},{"k":"r","a":0,"b":2,"p":5,"q":7},{"k":"r","a":3,"b":5,"p":8,"q":10},{"k":"b","a":0,"b":4.72,"p":-1.08,"q":-1.08},{"k":"b","a":5.2,"b":9.92,"p":-1.08,"q":-1.08},{"k":"b","a":-1.23,"b":-1.23,"p":0.23,"q":4.9},{"k":"b","a":-1.23,"b":-1.23,"p":5.37,"q":10}],
"et":[{"t":"Exp 1","x":2.2,"y":-1.67,"a":0},{"t":"Exp 2","x":7.45,"y":-1.67,"a":0},{"t":"Exp 1","x":-2.08,"y":3.08,"a":270},{"t":"Exp 2","x":-2.08,"y":7.5,"a":270}],
"gh":[{"c":0,"r":0,"v":1},{"c":1,"r":0,"v":0.93},{"c":2,"r":0,"v":0.5},{"c":3,"r":0,"v":0.5},{"c":4,"r":0,"v":0.88},{"c":5,"r":0,"v":0.75},{"c":6,"r":0,"v":0.57},{"c":7,"r":0,"v":0.7},{"c":8,"r":0,"v":0.5},{"c":9,"r":0,"v":0.5},{"c":10,"r":0,"v":0.5},{"c":11,"r":0,"v":0.5},
{"c":0,"r":1,"v":0.93},{"c":1,"r":1,"v":1},{"c":2,"r":1,"v":0.55},{"c":3,"r":1,"v":0.5},{"c":4,"r":1,"v":0.88},{"c":5,"r":1,"v":0.83},{"c":6,"r":1,"v":0.7},{"c":7,"r":1,"v":0.85},{"c":8,"r":1,"v":0.5},{"c":9,"r":1,"v":0.5},{"c":10,"r":1,"v":0.5},{"c":11,"r":1,"v":0.55},
{"c":0,"r":2,"v":0.5},{"c":1,"r":2,"v":0.54},{"c":2,"r":2,"v":1},{"c":3,"r":2,"v":0.97},{"c":4,"r":2,"v":0.76},{"c":5,"r":2,"v":0.75},{"c":6,"r":2,"v":0.65},{"c":7,"r":2,"v":0.65},{"c":8,"r":2,"v":0.8},{"c":9,"r":2,"v":0.82},{"c":10,"r":2,"v":0.93},{"c":11,"r":2,"v":0.93},
{"c":0,"r":3,"v":0.5},{"c":1,"r":3,"v":0.5},{"c":2,"r":3,"v":0.97},{"c":3,"r":3,"v":1},{"c":4,"r":3,"v":0.67},{"c":5,"r":3,"v":0.66},{"c":6,"r":3,"v":0.57},{"c":7,"r":3,"v":0.62},{"c":8,"r":3,"v":0.86},{"c":9,"r":3,"v":0.88},{"c":10,"r":3,"v":0.95},{"c":11,"r":3,"v":0.92},
{"c":0,"r":4,"v":0.88},{"c":1,"r":4,"v":0.88},{"c":2,"r":4,"v":0.75},{"c":3,"r":4,"v":0.67},{"c":4,"r":4,"v":1},{"c":5,"r":4,"v":0.96},{"c":6,"r":4,"v":0.73},{"c":7,"r":4,"v":0.79},{"c":8,"r":4,"v":0.5},{"c":9,"r":4,"v":0.5},{"c":10,"r":4,"v":0.6},{"c":11,"r":4,"v":0.6},
{"c":0,"r":5,"v":0.74},{"c":1,"r":5,"v":0.84},{"c":2,"r":5,"v":0.74},{"c":3,"r":5,"v":0.66},{"c":4,"r":5,"v":0.96},{"c":5,"r":5,"v":1},{"c":6,"r":5,"v":0.84},{"c":7,"r":5,"v":0.8},{"c":8,"r":5,"v":0.5},{"c":9,"r":5,"v":0.5},{"c":10,"r":5,"v":0.6},{"c":11,"r":5,"v":0.67},
{"c":0,"r":6,"v":0.58},{"c":1,"r":6,"v":0.7},{"c":2,"r":6,"v":0.63},{"c":3,"r":6,"v":0.58},{"c":4,"r":6,"v":0.72},{"c":5,"r":6,"v":0.85},{"c":6,"r":6,"v":1},{"c":7,"r":6,"v":0.87},{"c":8,"r":6,"v":0.5},{"c":9,"r":6,"v":0.5},{"c":10,"r":6,"v":0.53},{"c":11,"r":6,"v":0.66},
{"c":0,"r":7,"v":0.7},{"c":1,"r":7,"v":0.85},{"c":2,"r":7,"v":0.66},{"c":3,"r":7,"v":0.63},{"c":4,"r":7,"v":0.79},{"c":5,"r":7,"v":0.8},{"c":6,"r":7,"v":0.87},{"c":7,"r":7,"v":1},{"c":8,"r":7,"v":0.5},{"c":9,"r":7,"v":0.5},{"c":10,"r":7,"v":0.6},{"c":11,"r":7,"v":0.64},
{"c":0,"r":8,"v":0.5},{"c":1,"r":8,"v":0.5},{"c":2,"r":8,"v":0.8},{"c":3,"r":8,"v":0.87},{"c":4,"r":8,"v":0.5},{"c":5,"r":8,"v":0.5},{"c":6,"r":8,"v":0.5},{"c":7,"r":8,"v":0.5},{"c":8,"r":8,"v":1},{"c":9,"r":8,"v":0.98},{"c":10,"r":8,"v":0.94},{"c":11,"r":8,"v":0.9},
{"c":0,"r":9,"v":0.5},{"c":1,"r":9,"v":0.5},{"c":2,"r":9,"v":0.82},{"c":3,"r":9,"v":0.9},{"c":4,"r":9,"v":0.5},{"c":5,"r":9,"v":0.5},{"c":6,"r":9,"v":0.5},{"c":7,"r":9,"v":0.5},{"c":8,"r":9,"v":0.98},{"c":9,"r":9,"v":1},{"c":10,"r":9,"v":0.95},{"c":11,"r":9,"v":0.95},
{"c":0,"r":10,"v":0.5},{"c":1,"r":10,"v":0.5},{"c":2,"r":10,"v":0.93},{"c":3,"r":10,"v":0.95},{"c":4,"r":10,"v":0.6},{"c":5,"r":10,"v":0.6},{"c":6,"r":10,"v":0.53},{"c":7,"r":10,"v":0.6},{"c":8,"r":10,"v":0.93},{"c":9,"r":10,"v":0.93},{"c":10,"r":10,"v":1},{"c":11,"r":10,"v":0.96},
{"c":0,"r":11,"v":0.5},{"c":1,"r":11,"v":0.54},{"c":2,"r":11,"v":0.92},{"c":3,"r":11,"v":0.93},{"c":4,"r":11,"v":0.6},{"c":5,"r":11,"v":0.67},{"c":6,"r":11,"v":0.66},{"c":7,"r":11,"v":0.63},{"c":8,"r":11,"v":0.89},{"c":9,"r":11,"v":0.93},{"c":10,"r":11,"v":0.96},{"c":11,"r":11,"v":1}],
"gb":[{"k":"o","a":2,"b":4,"p":2,"q":4},{"k":"o","a":4,"b":6,"p":4,"q":6},{"k":"o","a":8,"b":10,"p":8,"q":10},{"k":"o","a":10,"b":12,"p":10,"q":12},{"k":"r","a":8,"b":10,"p":2,"q":4},{"k":"r","a":10,"b":12,"p":4,"q":6},{"k":"r","a":2,"b":4,"p":8,"q":10},{"k":"r","a":4,"b":6,"p":10,"q":12},{"k":"b","a":0.46,"b":5.68,"p":13.6,"q":13.6},{"k":"b","a":6.7,"b":11.94,"p":13.6,"q":13.6},{"k":"b","a":-1.51,"b":-1.51,"p":0.43,"q":5.88},{"k":"b","a":-1.51,"b":-1.51,"p":6.4,"q":11.42}],
"gt":[{"t":"Exp 1","x":3.5,"y":14.25,"a":0},{"t":"Exp 2","x":9.33,"y":14.25,"a":0},{"t":"Exp 1","x":-2.42,"y":4.06,"a":270},{"t":"Exp 2","x":-2.42,"y":8.53,"a":270}]
},
"vconcat":[
{"width":1830,"height":18,"mark":"rule","encoding":{}},
{"bounds":"flush","spacing":0,"hconcat":[{"width":81,"height":1,"mark":"rule","encoding":{}},{"width":2,"height":2,"data":{"values":[{"l":"A"}]},"mark":"text","encoding":{"text":{"field":"l"}}}]},
{"width":1,"height":19,"mark":"rule","encoding":{}},
{"bounds":"flush","spacing":0,"hconcat":[{"width":1469,"height":1,"mark":"rule","encoding":{}},
{"width":205,"height":237,"title":{"text":"Src","dx":-9,"offset":-47,"color":"#595959","fontSize":34},"data":{"name":"a5"},"transform":[{"fold":["E1","E2","E3","E4","E5","E6","E7","E8","E9","E10"]}],"mark":{"type":"line","strokeWidth":3},"encoding":{"x":{"field":"t","type":"quantitative","scale":{"domain":[0,20]},"title":null,"axis":{"style":"ax","values":[0,10,20]}},"y":{"field":"value","type":"quantitative","scale":{"domain":[0.8,1.6]},"title":null,"axis":{"style":"ay","values":[0.8,1,1.2,1.4,1.6]}},"color":{"field":"key","type":"nominal","sort":null,"legend":{"orient":"none","direction":"horizontal","legendX":1209,"legendY":296,"columns":5,"title":null,"symbolType":"stroke","symbolSize":2000,"symbolStrokeWidth":5,"labelFontSize":20,"labelFont":"Lato","labelFontWeight":"bold","labelColor":"#404040","columnPadding":9,"rowPadding":9,"labelOffset":2}}}}]},
{"width":1,"height":2,"mark":"rule","encoding":{}},
{"bounds":"flush","spacing":0,"hconcat":[{"width":195,"height":1,"mark":"rule","encoding":{}},
{"width":213,"height":239,"title":{"text":"EKAR","dx":-3,"offset":-42,"color":"#595959","fontSize":34},"data":{"name":"a1"},"transform":[{"fold":["E1","E2","E3","E4","E5","E6","E7","E8","E9","E10"]}],"mark":{"type":"line","strokeWidth":3},"encoding":{"x":{"field":"t","type":"quantitative","scale":{"domain":[0,20]},"title":null,"axis":{"style":"ax","values":[0,10,20]}},"y":{"field":"value","type":"quantitative","scale":{"domain":[0.9,1.2]},"axis":{"style":"ay","values":[0.9,1,1.1,1.2],"title":"Activity (a.u.)","titleFont":"DejaVu Sans","titleFontSize":25,"titleColor":"#404040","titleX":-97,"titleBaseline":"middle"}},"color":{"field":"key","type":"nominal","sort":null,"legend":null}}},
{"width":105,"height":1,"mark":"rule","encoding":{}},
{"width":211,"height":239,"title":{"text":"nucEKAR","dx":31,"offset":-42,"color":"#595959","fontSize":34},"data":{"name":"a2"},"transform":[{"fold":["E1","E2","E3","E4","E5","E6","E7","E8","E9","E10"]}],"mark":{"type":"line","strokeWidth":3},"encoding":{"x":{"field":"t","type":"quantitative","scale":{"domain":[0,20]},"title":null,"axis":{"style":"ax","values":[0,10,20]}},"y":{"field":"value","type":"quantitative","scale":{"domain":[0.9,1.2]},"title":null,"axis":{"style":"ay","values":[0.9,1,1.1,1.2]}},"color":{"field":"key","type":"nominal","sort":null,"legend":null}}},
{"width":106,"height":1,"mark":"rule","encoding":{}},
{"width":212,"height":239,"title":{"text":"PH-AKT","dx":7,"offset":-42,"color":"#595959","fontSize":34},"data":{"name":"a3"},"transform":[{"fold":["E1","E2","E3","E4","E5","E6","E7","E8","E9","E10"]}],"mark":{"type":"line","strokeWidth":3},"encoding":{"x":{"field":"t","type":"quantitative","scale":{"domain":[0,20]},"axis":{"style":"ax","values":[0,10,20],"title":"Time (min)","titleFontSize":30,"titleColor":"#404040","titleX":-21,"titleY":89,"titleBaseline":"middle"}},"y":{"field":"value","type":"quantitative","scale":{"domain":[0.6,1.8]},"title":null,"axis":{"style":"ay","values":[0.6,1,1.4,1.8]}},"color":{"field":"key","type":"nominal","sort":null,"legend":null}}},
{"width":109,"height":1,"mark":"rule","encoding":{}},
{"width":205,"height":239,"title":{"text":"Lyn-FAK","dx":29,"offset":-42,"color":"#595959","fontSize":34},"data":{"name":"a4"},"transform":[{"fold":["E1","E2","E3","E4","E5","E6","E7","E8","E9","E10"]}],"mark":{"type":"line","strokeWidth":3},"encoding":{"x":{"field":"t","type":"quantitative","scale":{"domain":[0,20]},"title":null,"axis":{"style":"ax","values":[0,10,20]}},"y":{"field":"value","type":"quantitative","scale":{"domain":[0.8,1.4]},"title":null,"axis":{"style":"ay","values":[0.8,1,1.2,1.4]}},"color":{"field":"key","type":"nominal","sort":null,"legend":null}}}]},
{"width":1,"height":379,"mark":"rule","encoding":{}},
{"bounds":"flush","spacing":0,"hconcat":[{"width":15,"height":1,"mark":"rule","encoding":{}},{"width":2,"height":2,"data":{"values":[{"l":"B"}]},"mark":"text","encoding":{"text":{"field":"l"}}},{"width":894,"height":1,"mark":"rule","encoding":{}},{"width":2,"height":2,"data":{"values":[{"l":"C"}]},"mark":"text","encoding":{"text":{"field":"l"}}}]},
{"width":1,"height":38,"mark":"rule","encoding":{}},
{"bounds":"flush","spacing":0,"hconcat":[{"width":108,"height":1,"mark":"rule","encoding":{}},
{"width":751,"height":354,"data":{"name":"b"},"encoding":{"x":{"field":"g","type":"nominal","sort":null,"title":null,"scale":{"paddingInner":0.16,"paddingOuter":0.08},"axis":{"labelAngle":0,"labelFontSize":26,"labelColor":"#595959","labelPadding":27}},"xOffset":{"field":"s","type":"nominal","sort":null}},"layer":[
{"mark":"bar","encoding":{"y":{"field":"v","type":"quantitative","scale":{"domain":[0,10]},"axis":{"values":[0,2,4,6,8,10],"title":"RIT (min)","titleFont":"DejaVu Sans","titleFontSize":25,"titleColor":"#404040","titleX":-74,"titleY":212,"titleBaseline":"middle","labelFontSize":26,"labelColor":"#595959","labelPadding":30,"gridWidth":3}},"color":{"field":"s","type":"nominal","sort":null,"legend":{"orient":"none","legendX":84,"legendY":454,"columns":10,"title":null,"symbolType":"square","symbolSize":300,"symbolStrokeWidth":0,"labelFontSize":26,"labelFont":"Lato","labelColor":"#595959","columnPadding":16,"labelOffset":5}}}},
{"mark":{"type":"rule","color":"#404040","strokeWidth":2},"encoding":{"y":{"field":"l","type":"quantitative"},"y2":{"field":"h"}}},
{"mark":{"type":"tick","color":"#404040","size":14,"thickness":2},"encoding":{"y":{"field":"l","type":"quantitative"}}},
{"mark":{"type":"tick","color":"#404040","size":14,"thickness":2},"encoding":{"y":{"field":"h","type":"quantitative"}}}]}]},
{"width":1,"height":23,"mark":"rule","encoding":{}},
{"bounds":"flush","spacing":0,"hconcat":[{"width":997,"height":1,"mark":"rule","encoding":{}},
{"width":768,"height":340,"data":{"name":"c"},"encoding":{"x":{"field":"g","type":"nominal","sort":null,"title":null,"scale":{"paddingInner":0.285,"paddingOuter":0.14},"axis":{"labelAngle":0,"labelFontSize":26,"labelColor":"#595959","labelPadding":28}},"xOffset":{"field":"s","type":"nominal","sort":null}},"layer":[
{"mark":"bar","encoding":{"y":{"field":"v","type":"quantitative","scale":{"domain":[-3,5]},"axis":{"values":[-3,-2,-1,0,1,2,3,4,5],"title":"ΔRIT (min)","titleFont":"DejaVu Sans","titleFontSize":25,"titleColor":"#404040","titleX":-89,"titleY":197,"titleBaseline":"middle","labelFontSize":26,"labelColor":"#595959","labelPadding":30,"gridWidth":3}},"color":{"field":"s","type":"nominal","sort":null,"legend":{"orient":"none","legendX":1045,"legendY":417,"columns":5,"title":null,"gridAlign":"none","symbolType":"square","symbolSize":300,"symbolStrokeWidth":0,"labelFontSize":27,"labelFont":"Lato","labelColor":"#595959","columnPadding":23,"labelOffset":5}}}},
{"mark":{"type":"rule","color":"#909090","strokeWidth":1.5},"encoding":{"y":{"field":"l","type":"quantitative"},"y2":{"field":"h"}}},
{"mark":{"type":"tick","color":"#7f7f7f","size":14,"thickness":1.5},"encoding":{"y":{"field":"l","type":"quantitative"}}},
{"mark":{"type":"tick","color":"#7f7f7f","size":14,"thickness":1.5},"encoding":{"y":{"field":"h","type":"quantitative"}}}]}]},
{"width":1,"height":548,"mark":"rule","encoding":{}},
{"bounds":"flush","spacing":0,"hconcat":[{"width":1244,"height":1,"mark":"rule","encoding":{}},{"width":2,"height":2,"data":{"values":[{"l":"E"}]},"mark":"text","encoding":{"text":{"field":"l"}}}]},
{"width":1,"height":20,"mark":"rule","encoding":{}},
{"bounds":"flush","spacing":0,"hconcat":[{"width":16,"height":1,"mark":"rule","encoding":{}},{"width":2,"height":2,"data":{"values":[{"l":"D"}]},"mark":"text","encoding":{"text":{"field":"l"}}}]},
{"width":1,"height":33,"mark":"rule","encoding":{}},
{"bounds":"flush","spacing":0,"hconcat":[{"width":1341,"height":1,"mark":"rule","encoding":{}},
{"width":399,"height":408,"layer":[
{"data":{"name":"eh"},"mark":"rect","encoding":{"x":{"field":"c","type":"ordinal","title":null,"axis":{"orient":"top","labelAngle":0,"labelExpr":"datum.value%5+1","labelFontSize":30,"labelPadding":3}},"y":{"field":"r","type":"ordinal","title":null,"axis":{"grid":false,"labelAngle":270,"labelExpr":"datum.value%5+1","labelFontSize":30,"labelColor":"#000","labelPadding":10}},"color":{"field":"v","type":"quantitative","scale":{"domain":[-0.6,-0.4,-0.2,0,0.2,0.4,0.6,0.8,1],"range":["#081d58","#253494","#225ea8","#1d91c0","#41b6c4","#7fcdbb","#c7e9b4","#edf8b1","#ffffd9"]},"legend":{"title":null,"orient":"right","offset":23,"gradientLength":408,"gradientThickness":16,"values":[-0.6,-0.4,-0.2,0,0.2,0.4,0.6,0.8,1],"labelFontSize":17,"labelFont":"Lato","labelColor":"#404040","labelOffset":7,"labelExpr":"replace(format(datum.value,'.1f'),'-','−')"}}}},
{"data":{"name":"eb"},"mark":{"type":"rect","filled":false,"strokeWidth":6},"encoding":{"x":{"field":"a","type":"quantitative","scale":{"domain":[0,10]},"axis":null},"x2":{"field":"b"},"y":{"field":"p","type":"quantitative","scale":{"domain":[0,10],"reverse":true},"axis":null},"y2":{"field":"q"},"stroke":{"field":"k","type":"nominal","scale":{"domain":["b","o","r"],"range":["#000","#FFC000","#FF0000"]},"legend":null}}},
{"data":{"name":"et"},"mark":{"type":"text","font":"Lato","fontSize":32,"fontWeight":"normal"},"encoding":{"x":{"field":"x","type":"quantitative","scale":{"domain":[0,10]},"axis":null},"y":{"field":"y","type":"quantitative","scale":{"domain":[0,10],"reverse":true},"axis":null},"text":{"field":"t"},"angle":{"field":"a","type":"quantitative","scale":null}}}],
"resolve":{"scale":{"x":"independent","y":"independent"}}}]},
{"width":1,"height":16,"mark":"rule","encoding":{}},
{"bounds":"flush","spacing":0,"hconcat":[{"width":354,"height":1,"mark":"rule","encoding":{}},
{"width":147,"height":160,"title":{"text":"2. nucEKAR","dx":-1,"offset":15},"data":{"name":"d12"},"transform":[{"fold":["m","u","l"]}],"mark":{"type":"line","color":"#5B9BD5"},"encoding":{"x":{"field":"t","type":"quantitative","scale":{"domain":[0,40]},"title":null,"axis":{"values":[0,20,40],"labelPadding":12}},"y":{"field":"value","type":"quantitative","scale":{"domain":[0.9,1.1]},"title":null,"axis":{"values":[0.9,1,1.1]}},"strokeWidth":{"field":"key","type":"nominal","scale":{"type":"ordinal","range":[1.3,4,1.3]},"legend":null},"strokeDash":{"field":"key","type":"nominal","scale":{"range":[[4,3],[1,0],[4,3]]},"legend":null}}},
{"width":71,"height":1,"mark":"rule","encoding":{}},
{"width":148,"height":160,"title":{"text":"3. PH-AKT","dx":1,"offset":15},"data":{"name":"d13"},"transform":[{"fold":["m","u","l"]}],"mark":{"type":"line","color":"#5B9BD5"},"encoding":{"x":{"field":"t","type":"quantitative","scale":{"domain":[0,40]},"title":null,"axis":{"values":[0,20,40],"labelPadding":12}},"y":{"field":"value","type":"quantitative","scale":{"domain":[0.9,1.3]},"title":null,"axis":{"values":[0.9,1,1.1,1.2,1.3]}},"strokeWidth":{"field":"key","type":"nominal","scale":{"type":"ordinal","range":[1.3,4,1.3]},"legend":null},"strokeDash":{"field":"key","type":"nominal","scale":{"range":[[4,3],[1,0],[4,3]]},"legend":null}}}]},
{"width":1,"height":15,"mark":"rule","encoding":{}},
{"bounds":"flush","spacing":0,"hconcat":[{"width":1017,"height":1,"mark":"rule","encoding":{}},
{"width":141,"height":148,"title":{"text":"5. Src","dx":-23,"offset":19},"data":{"name":"d15"},"transform":[{"fold":["m","u","l"]}],"mark":{"type":"line","color":"#5B9BD5"},"encoding":{"x":{"field":"t","type":"quantitative","scale":{"domain":[0,40]},"title":null,"axis":{"values":[0,20,40],"labelPadding":9}},"y":{"field":"value","type":"quantitative","scale":{"domain":[0.8,1.3]},"title":null,"axis":{"values":[0.8,0.9,1,1.1,1.2,1.3]}},"strokeWidth":{"field":"key","type":"nominal","scale":{"type":"ordinal","range":[1.3,4,1.3]},"legend":null},"strokeDash":{"field":"key","type":"nominal","scale":{"range":[[4,3],[1,0],[4,3]]},"legend":null}}}]},
{"width":1,"height":18,"mark":"rule","encoding":{}},
{"bounds":"flush","spacing":0,"hconcat":[{"width":146,"height":1,"mark":"rule","encoding":{}},
{"width":138,"height":127,"title":{"text":"1. EKAR","dx":-17,"offset":54},"layer":[{"data":{"name":"d11"},"transform":[{"fold":["m","u","l"]}],"mark":{"type":"line","color":"#5B9BD5"},"encoding":{"x":{"field":"t","type":"quantitative","scale":{"domain":[0,40]},"title":null,"axis":{"values":[0,20,40],"labelPadding":12}},"y":{"field":"value","type":"quantitative","scale":{"domain":[0.9,1.1]},"axis":{"values":[0.9,1,1.1],"title":"Exp 1","titleX":-88,"titleY":80,"titleBaseline":"middle"}},"strokeWidth":{"field":"key","type":"nominal","scale":{"type":"ordinal","range":[1.3,4,1.3]},"legend":null},"strokeDash":{"field":"key","type":"nominal","scale":{"range":[[4,3],[1,0],[4,3]]},"legend":null}}},
{"data":{"name":"ad"},"mark":{"type":"rule","color":"#FF0000","strokeWidth":4},"encoding":{"x":{"field":"a","type":"quantitative"},"y":{"datum":0.892},"y2":{"datum":0.925}}},
{"data":{"name":"ad"},"mark":{"type":"point","shape":"triangle-up","filled":true,"size":190,"color":"#FF0000","opacity":1},"encoding":{"x":{"field":"a","type":"quantitative"},"y":{"datum":0.918}}}]},
{"width":515,"height":1,"mark":"rule","encoding":{}},
{"width":138,"height":130,"title":{"text":"4. LynFAK","dx":-8,"offset":15},"data":{"name":"d14"},"transform":[{"fold":["m","u","l"]}],"mark":{"type":"line","color":"#5B9BD5"},"encoding":{"x":{"field":"t","type":"quantitative","scale":{"domain":[0,40]},"title":null,"axis":{"values":[0,20,40],"labelPadding":9}},"y":{"field":"value","type":"quantitative","scale":{"domain":[0.9,1.1]},"title":null,"axis":{"values":[0.9,1,1.1]}},"strokeWidth":{"field":"key","type":"nominal","scale":{"type":"ordinal","range":[1.3,4,1.3]},"legend":null},"strokeDash":{"field":"key","type":"nominal","scale":{"range":[[4,3],[1,0],[4,3]]},"legend":null}}}]},
{"width":1,"height":186,"mark":"rule","encoding":{}},
{"bounds":"flush","spacing":0,"hconcat":[{"width":144,"height":1,"mark":"rule","encoding":{}},
{"width":147,"height":160,"layer":[{"data":{"name":"d21"},"transform":[{"fold":["m","u","l"]}],"mark":{"type":"line","color":"#5B9BD5"},"encoding":{"x":{"field":"t","type":"quantitative","scale":{"domain":[0,40]},"title":null,"axis":{"values":[0,20,40],"labelPadding":2}},"y":{"field":"value","type":"quantitative","scale":{"domain":[0.9,1.2]},"axis":{"values":[0.9,1,1.1,1.2],"title":"Exp 2","titleX":-86,"titleY":84,"titleBaseline":"middle"}},"strokeWidth":{"field":"key","type":"nominal","scale":{"type":"ordinal","range":[1.3,4,1.3]},"legend":null},"strokeDash":{"field":"key","type":"nominal","scale":{"range":[[4,3],[1,0],[4,3]]},"legend":null}}},
{"data":{"name":"ad"},"mark":{"type":"rule","color":"#FF0000","strokeWidth":4},"encoding":{"x":{"field":"a","type":"quantitative"},"y":{"datum":0.925},"y2":{"datum":0.96}}},
{"data":{"name":"ad"},"mark":{"type":"point","shape":"triangle-up","filled":true,"size":190,"color":"#FF0000","opacity":1},"encoding":{"x":{"field":"a","type":"quantitative"},"y":{"datum":0.959}}}]},
{"width":70,"height":1,"mark":"rule","encoding":{}},
{"width":147,"height":160,"data":{"name":"d22"},"transform":[{"fold":["m","u","l"]}],"mark":{"type":"line","color":"#5B9BD5"},"encoding":{"x":{"field":"t","type":"quantitative","scale":{"domain":[0,40]},"title":null,"axis":{"values":[0,20,40],"labelPadding":2}},"y":{"field":"value","type":"quantitative","scale":{"domain":[0.9,1.2]},"title":null,"axis":{"values":[0.9,1,1.1,1.2]}},"strokeWidth":{"field":"key","type":"nominal","scale":{"type":"ordinal","range":[1.3,4,1.3]},"legend":null},"strokeDash":{"field":"key","type":"nominal","scale":{"range":[[4,3],[1,0],[4,3]]},"legend":null}}},
{"width":290,"height":1,"mark":"rule","encoding":{}},
{"width":148,"height":162,"data":{"name":"d24"},"transform":[{"fold":["m","u","l"]}],"mark":{"type":"line","color":"#5B9BD5"},"encoding":{"x":{"field":"t","type":"quantitative","scale":{"domain":[0,40]},"title":null,"axis":{"values":[0,20,40],"labelPadding":2}},"y":{"field":"value","type":"quantitative","scale":{"domain":[0.9,1.2]},"title":null,"axis":{"values":[0.9,1,1.1,1.2]}},"strokeWidth":{"field":"key","type":"nominal","scale":{"type":"ordinal","range":[1.3,4,1.3]},"legend":null},"strokeDash":{"field":"key","type":"nominal","scale":{"range":[[4,3],[1,0],[4,3]]},"legend":null}}},
{"width":69,"height":1,"mark":"rule","encoding":{}},
{"width":150,"height":162,"data":{"name":"d25"},"transform":[{"fold":["m","u","l"]}],"mark":{"type":"line","color":"#5B9BD5"},"encoding":{"x":{"field":"t","type":"quantitative","scale":{"domain":[0,40]},"title":null,"axis":{"values":[0,20,40],"labelPadding":2}},"y":{"field":"value","type":"quantitative","scale":{"domain":[0.9,1.4]},"title":null,"axis":{"values":[0.9,1,1.1,1.2,1.3,1.4]}},"strokeWidth":{"field":"key","type":"nominal","scale":{"type":"ordinal","range":[1.3,4,1.3]},"legend":null},"strokeDash":{"field":"key","type":"nominal","scale":{"range":[[4,3],[1,0],[4,3]]},"legend":null}}}]},
{"width":1,"height":17,"mark":"rule","encoding":{}},
{"bounds":"flush","spacing":0,"hconcat":[{"width":578,"height":1,"mark":"rule","encoding":{}},
{"width":149,"height":143,"data":{"name":"d23"},"transform":[{"fold":["m","u","l"]}],"mark":{"type":"line","color":"#5B9BD5"},"encoding":{"x":{"field":"t","type":"quantitative","scale":{"domain":[0,40]},"axis":{"values":[0,20,40],"labelPadding":2,"title":"Time (min)","titleFontSize":30,"titleX":48,"titleY":48,"titleBaseline":"middle"}},"y":{"field":"value","type":"quantitative","scale":{"domain":[0.8,1.6]},"title":null,"axis":{"values":[0.8,1,1.2,1.4,1.6]}},"strokeWidth":{"field":"key","type":"nominal","scale":{"type":"ordinal","range":[1.3,4,1.3]},"legend":null},"strokeDash":{"field":"key","type":"nominal","scale":{"range":[[4,3],[1,0],[4,3]]},"legend":null}}}]},
{"width":1,"height":224,"mark":"rule","encoding":{}},
{"bounds":"flush","spacing":0,"hconcat":[{"width":1353,"height":1,"mark":"rule","encoding":{}},
{"width":397,"height":416,"layer":[
{"data":{"name":"gh"},"mark":"rect","encoding":{"x":{"field":"c","type":"ordinal","title":null,"axis":{"labelAngle":0,"labelExpr":"datum.value%6+1","labelFontSize":30,"labelPadding":20}},"y":{"field":"r","type":"ordinal","title":null,"axis":{"grid":false,"labelAngle":270,"labelExpr":"datum.value%6+1","labelFontSize":30,"labelColor":"#000","labelPadding":14}},"color":{"field":"v","type":"quantitative","scale":{"domain":[0.5,0.5625,0.625,0.6875,0.75,0.8125,0.875,0.9375,1],"range":["#081d58","#253494","#225ea8","#1d91c0","#41b6c4","#7fcdbb","#c7e9b4","#edf8b1","#ffffd9"]},"legend":{"title":null,"orient":"right","offset":20,"gradientLength":422,"gradientThickness":17,"values":[0.5,0.6,0.7,0.8,0.9,1],"labelFontSize":17,"labelFont":"Lato","labelColor":"#404040","labelOffset":7,"labelExpr":"format(datum.value,'.1f')"}}}},
{"data":{"name":"gb"},"mark":{"type":"rect","filled":false,"strokeWidth":6},"encoding":{"x":{"field":"a","type":"quantitative","scale":{"domain":[0,12]},"axis":null},"x2":{"field":"b"},"y":{"field":"p","type":"quantitative","scale":{"domain":[0,12],"reverse":true},"axis":null},"y2":{"field":"q"},"stroke":{"field":"k","type":"nominal","scale":{"domain":["b","o","r"],"range":["#000","#FFC000","#FF0000"]},"legend":null}}},
{"data":{"name":"gt"},"mark":{"type":"text","font":"Lato","fontSize":28,"fontWeight":"normal"},"encoding":{"x":{"field":"x","type":"quantitative","scale":{"domain":[0,12]},"axis":null},"y":{"field":"y","type":"quantitative","scale":{"domain":[0,12],"reverse":true},"axis":null},"text":{"field":"t"},"angle":{"field":"a","type":"quantitative","scale":null}}}],
"resolve":{"scale":{"x":"independent","y":"independent"}}}]},
{"width":1,"height":7,"mark":"rule","encoding":{}},
{"bounds":"flush","spacing":0,"hconcat":[{"width":15,"height":1,"mark":"rule","encoding":{}},{"width":2,"height":2,"data":{"values":[{"l":"F"}]},"mark":"text","encoding":{"text":{"field":"l"}}},{"width":1230,"height":1,"mark":"rule","encoding":{}},{"width":2,"height":2,"data":{"values":[{"l":"G"}]},"mark":"text","encoding":{"text":{"field":"l"}}}]},
{"width":1,"height":92,"mark":"rule","encoding":{}},
{"bounds":"flush","spacing":0,"hconcat":[{"width":132,"height":1,"mark":"rule","encoding":{}},
{"width":123,"height":133,"title":{"text":"1. PH-AKT","dx":3,"offset":18},"layer":[{"data":{"name":"f11"},"transform":[{"fold":["m","u","l"]}],"mark":{"type":"line","color":"#5B9BD5"},"encoding":{"x":{"field":"t","type":"quantitative","scale":{"domain":[0,60]},"title":null,"axis":{"values":[0,30,60],"labelPadding":8}},"y":{"field":"value","type":"quantitative","scale":{"domain":[0.8,1.8]},"axis":{"values":[0.8,1,1.2,1.4,1.6,1.8],"title":"Exp 1","titleX":-74,"titleY":62,"titleBaseline":"middle"}},"strokeWidth":{"field":"key","type":"nominal","scale":{"type":"ordinal","range":[1.3,4,1.3]},"legend":null},"strokeDash":{"field":"key","type":"nominal","scale":{"range":[[4,3],[1,0],[4,3]]},"legend":null}}},
{"data":{"name":"af1"},"mark":{"type":"rule","color":"#FF0000","strokeWidth":4},"encoding":{"x":{"field":"a","type":"quantitative"},"y":{"datum":0.805},"y2":{"datum":0.95}}},
{"data":{"name":"af1"},"mark":{"type":"point","shape":"triangle-up","filled":true,"size":190,"color":"#FF0000","opacity":1},"encoding":{"x":{"field":"a","type":"quantitative"},"y":{"datum":0.935}}}]},
{"width":62,"height":1,"mark":"rule","encoding":{}},
{"width":121,"height":133,"title":{"text":"2. EKAR","dx":7,"offset":11},"data":{"name":"f12"},"transform":[{"fold":["m","u","l"]}],"mark":{"type":"line","color":"#5B9BD5"},"encoding":{"x":{"field":"t","type":"quantitative","scale":{"domain":[0,60]},"title":null,"axis":{"values":[0,30,60],"labelPadding":8}},"y":{"field":"value","type":"quantitative","scale":{"domain":[0.9,1.2]},"title":null,"axis":{"values":[0.9,1,1.1,1.2]}},"strokeWidth":{"field":"key","type":"nominal","scale":{"type":"ordinal","range":[1.3,4,1.3]},"legend":null},"strokeDash":{"field":"key","type":"nominal","scale":{"range":[[4,3],[1,0],[4,3]]},"legend":null}}},
{"width":60,"height":1,"mark":"rule","encoding":{}},
{"width":124,"height":135,"title":{"text":"3. Src","dx":-24,"offset":11},"data":{"name":"f13"},"transform":[{"fold":["m","u","l"]}],"mark":{"type":"line","color":"#5B9BD5"},"encoding":{"x":{"field":"t","type":"quantitative","scale":{"domain":[0,60]},"title":null,"axis":{"values":[0,30,60],"labelPadding":6}},"y":{"field":"value","type":"quantitative","scale":{"domain":[0.8,1.6]},"title":null,"axis":{"values":[0.8,1,1.2,1.4,1.6]}},"strokeWidth":{"field":"key","type":"nominal","scale":{"type":"ordinal","range":[1.3,4,1.3]},"legend":null},"strokeDash":{"field":"key","type":"nominal","scale":{"range":[[4,3],[1,0],[4,3]]},"legend":null}}},
{"width":61,"height":1,"mark":"rule","encoding":{}},
{"width":121,"height":135,"title":{"text":"4. LynFAK","dx":-43,"offset":11},"data":{"name":"f14"},"transform":[{"fold":["m","u","l"]}],"mark":{"type":"line","color":"#5B9BD5"},"encoding":{"x":{"field":"t","type":"quantitative","scale":{"domain":[0,60]},"title":null,"axis":{"values":[0,30,60],"labelPadding":6}},"y":{"field":"value","type":"quantitative","scale":{"domain":[0.9,1.3]},"title":null,"axis":{"values":[0.9,1,1.1,1.2,1.3]}},"strokeWidth":{"field":"key","type":"nominal","scale":{"type":"ordinal","range":[1.3,4,1.3]},"legend":null},"strokeDash":{"field":"key","type":"nominal","scale":{"range":[[4,3],[1,0],[4,3]]},"legend":null}}},
{"width":61,"height":1,"mark":"rule","encoding":{}},
{"width":122,"height":134,"title":{"text":"5. RhoA","dx":-20,"offset":11},"data":{"name":"f15"},"transform":[{"fold":["m","u","l"]}],"mark":{"type":"line","color":"#5B9BD5"},"encoding":{"x":{"field":"t","type":"quantitative","scale":{"domain":[0,60]},"title":null,"axis":{"values":[0,30,60],"labelPadding":7}},"y":{"field":"value","type":"quantitative","scale":{"domain":[0.9,1.2]},"title":null,"axis":{"values":[0.9,1,1.1,1.2]}},"strokeWidth":{"field":"key","type":"nominal","scale":{"type":"ordinal","range":[1.3,4,1.3]},"legend":null},"strokeDash":{"field":"key","type":"nominal","scale":{"range":[[4,3],[1,0],[4,3]]},"legend":null}}},
{"width":61,"height":1,"mark":"rule","encoding":{}},
{"width":118,"height":135,"title":{"text":"6. ROCK","dx":-19,"offset":11},"data":{"name":"f16"},"transform":[{"fold":["m","u","l"]}],"mark":{"type":"line","color":"#5B9BD5"},"encoding":{"x":{"field":"t","type":"quantitative","scale":{"domain":[0,60]},"title":null,"axis":{"values":[0,30,60],"labelPadding":6}},"y":{"field":"value","type":"quantitative","scale":{"domain":[0.9,1.2]},"title":null,"axis":{"values":[0.9,1,1.1,1.2]}},"strokeWidth":{"field":"key","type":"nominal","scale":{"type":"ordinal","range":[1.3,4,1.3]},"legend":null},"strokeDash":{"field":"key","type":"nominal","scale":{"range":[[4,3],[1,0],[4,3]]},"legend":null}}}]},
{"width":1,"height":189,"mark":"rule","encoding":{}},
{"bounds":"flush","spacing":0,"hconcat":[{"width":318,"height":1,"mark":"rule","encoding":{}},
{"width":121,"height":132,"data":{"name":"f22"},"transform":[{"fold":["m","u","l"]}],"mark":{"type":"line","color":"#5B9BD5"},"encoding":{"x":{"field":"t","type":"quantitative","scale":{"domain":[0,60]},"title":null,"axis":{"values":[0,30,60],"labelPadding":8}},"y":{"field":"value","type":"quantitative","scale":{"domain":[0.9,1.2]},"title":null,"axis":{"values":[0.9,1,1.1,1.2]}},"strokeWidth":{"field":"key","type":"nominal","scale":{"type":"ordinal","range":[1.3,4,1.3]},"legend":null},"strokeDash":{"field":"key","type":"nominal","scale":{"range":[[4,3],[1,0],[4,3]]},"legend":null}}},
{"width":428,"height":1,"mark":"rule","encoding":{}},
{"width":121,"height":132,"data":{"name":"f25"},"transform":[{"fold":["m","u","l"]}],"mark":{"type":"line","color":"#5B9BD5"},"encoding":{"x":{"field":"t","type":"quantitative","scale":{"domain":[0,60]},"title":null,"axis":{"values":[0,30,60],"labelPadding":8}},"y":{"field":"value","type":"quantitative","scale":{"domain":[0.9,1.2]},"title":null,"axis":{"values":[0.9,1,1.1,1.2]}},"strokeWidth":{"field":"key","type":"nominal","scale":{"type":"ordinal","range":[1.3,4,1.3]},"legend":null},"strokeDash":{"field":"key","type":"nominal","scale":{"range":[[4,3],[1,0],[4,3]]},"legend":null}}},
{"width":61,"height":1,"mark":"rule","encoding":{}},
{"width":118,"height":134,"data":{"name":"f26"},"transform":[{"fold":["m","u","l"]}],"mark":{"type":"line","color":"#5B9BD5"},"encoding":{"x":{"field":"t","type":"quantitative","scale":{"domain":[0,60]},"title":null,"axis":{"values":[0,30,60],"labelPadding":7}},"y":{"field":"value","type":"quantitative","scale":{"domain":[0.9,1.2]},"title":null,"axis":{"values":[0.9,1,1.1,1.2]}},"strokeWidth":{"field":"key","type":"nominal","scale":{"type":"ordinal","range":[1.3,4,1.3]},"legend":null},"strokeDash":{"field":"key","type":"nominal","scale":{"range":[[4,3],[1,0],[4,3]]},"legend":null}}}]},
{"width":1,"height":14,"mark":"rule","encoding":{}},
{"bounds":"flush","spacing":0,"hconcat":[{"width":134,"height":1,"mark":"rule","encoding":{}},
{"width":123,"height":118,"layer":[{"data":{"name":"f21"},"transform":[{"fold":["m","u","l"]}],"mark":{"type":"line","color":"#5B9BD5"},"encoding":{"x":{"field":"t","type":"quantitative","scale":{"domain":[0,60]},"title":null,"axis":{"values":[0,30,60],"labelPadding":8}},"y":{"field":"value","type":"quantitative","scale":{"domain":[0.8,1.6]},"axis":{"values":[0.8,1,1.2,1.4,1.6],"title":"Exp 2","titleX":-76,"titleY":66,"titleBaseline":"middle"}},"strokeWidth":{"field":"key","type":"nominal","scale":{"type":"ordinal","range":[1.3,4,1.3]},"legend":null},"strokeDash":{"field":"key","type":"nominal","scale":{"range":[[4,3],[1,0],[4,3]]},"legend":null}}},
{"data":{"name":"af2"},"mark":{"type":"rule","color":"#FF0000","strokeWidth":4},"encoding":{"x":{"field":"a","type":"quantitative"},"y":{"datum":0.825},"y2":{"datum":0.97}}},
{"data":{"name":"af2"},"mark":{"type":"point","shape":"triangle-up","filled":true,"size":190,"color":"#FF0000","opacity":1},"encoding":{"x":{"field":"a","type":"quantitative"},"y":{"datum":0.955}}}]}]},
{"width":1,"height":5,"mark":"rule","encoding":{}},
{"bounds":"flush","spacing":0,"hconcat":[{"width":500,"height":1,"mark":"rule","encoding":{}},
{"width":122,"height":116,"data":{"name":"f23"},"transform":[{"fold":["m","u","l"]}],"mark":{"type":"line","color":"#5B9BD5"},"encoding":{"x":{"field":"t","type":"quantitative","scale":{"domain":[0,60]},"axis":{"values":[0,30,60],"labelPadding":5,"title":"Time (min)","titleFontSize":30,"titleX":125,"titleY":47,"titleBaseline":"middle"}},"y":{"field":"value","type":"quantitative","scale":{"domain":[0.8,1.4]},"title":null,"axis":{"values":[0.8,1,1.2,1.4]}},"strokeWidth":{"field":"key","type":"nominal","scale":{"type":"ordinal","range":[1.3,4,1.3]},"legend":null},"strokeDash":{"field":"key","type":"nominal","scale":{"range":[[4,3],[1,0],[4,3]]},"legend":null}}},
{"width":70,"height":1,"mark":"rule","encoding":{}},
{"width":114,"height":116,"data":{"name":"f24"},"transform":[{"fold":["m","u","l"]}],"mark":{"type":"line","color":"#5B9BD5"},"encoding":{"x":{"field":"t","type":"quantitative","scale":{"domain":[0,60]},"title":null,"axis":{"values":[0,30,60],"labelPadding":5}},"y":{"field":"value","type":"quantitative","scale":{"domain":[0.9,1.2]},"title":null,"axis":{"values":[0.9,1,1.1,1.2]}},"strokeWidth":{"field":"key","type":"nominal","scale":{"type":"ordinal","range":[1.3,4,1.3]},"legend":null},"strokeDash":{"field":"key","type":"nominal","scale":{"range":[[4,3],[1,0],[4,3]]},"legend":null}}}]},
{"width":1,"height":207,"mark":"rule","encoding":{}}
]}
